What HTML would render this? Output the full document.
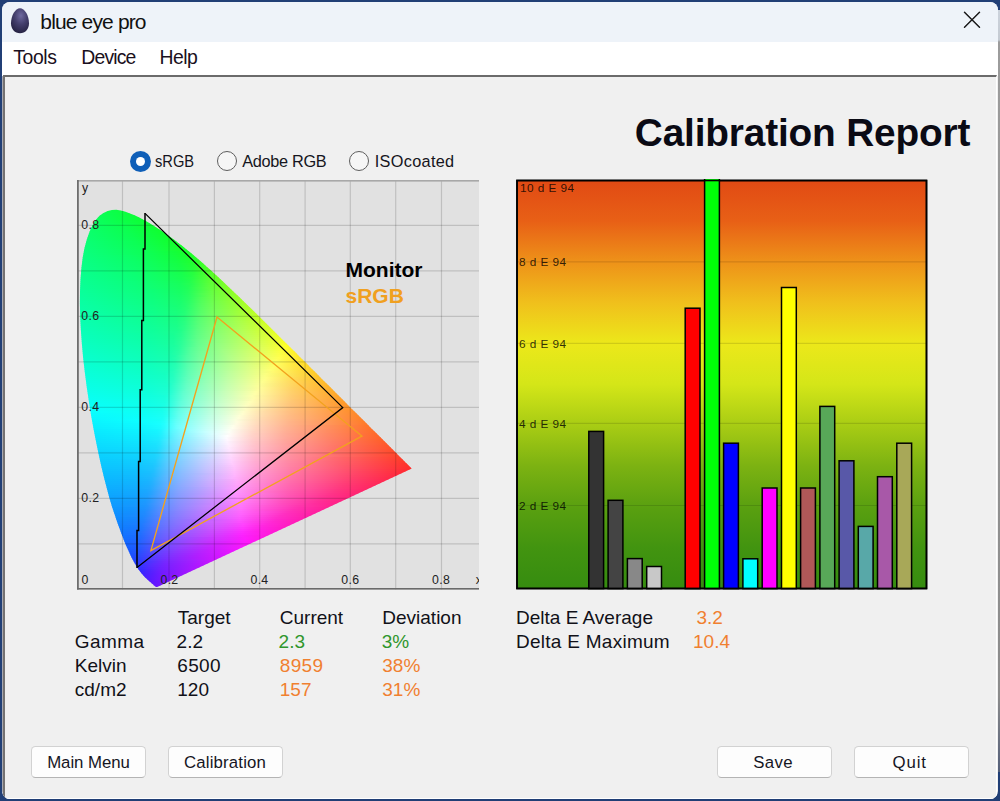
<!DOCTYPE html>
<html>
<head>
<meta charset="utf-8">
<title>blue eye pro</title>
<style>
html,body{margin:0;padding:0;}
body{width:1000px;height:801px;overflow:hidden;position:relative;background:#213f76;font-family:"Liberation Sans",sans-serif;color:#000;}
.abs{position:absolute;}
#edge-r{left:998px;top:10px;width:2px;height:762px;background:linear-gradient(#ccd3dc 0,#c4cad2 30px,#9c9c9c 32px,#8c8c8c 90%,#55607a 100%);}
#win{left:2px;top:2px;width:996px;height:797px;background:#f0f0f0;border-radius:8px;overflow:hidden;}
#titlebar{left:0;top:0;width:996px;height:39.6px;background:#eef3f9;}
#title{left:38.3px;top:7.6px;font-size:21px;line-height:24px;letter-spacing:-0.85px;color:#111;white-space:nowrap;}
#menubar{left:0;top:39.6px;width:996px;height:34px;background:#fff;}
.menu{top:3.4px;font-size:19.4px;line-height:24px;letter-spacing:-0.8px;color:#1a1020;white-space:nowrap;}
#client{left:1px;top:72.5px;width:994px;height:724.5px;box-sizing:border-box;border-top:2.5px solid #6b6b6b;border-left:2px solid #747272;border-right:1.5px solid #fff;border-bottom:1.5px solid #fff;background:#f0f0f0;}
.t{white-space:nowrap;font-size:19px;line-height:24px;color:#111118;}
.g{color:#2f962c;}
.o{color:#f08030;}
#h1{left:634.8px;top:110.5px;font-size:38.8px;line-height:44px;font-weight:bold;letter-spacing:-0.17px;color:#0a0a14;white-space:nowrap;}
.radio{width:18.2px;height:18.2px;border-radius:50%;border:1.5px solid #5e5e5e;background:#f6f6f6;box-sizing:content-box;}
.radio.on{border:none;width:21px;height:21px;background:#0f5fb8;}
.radio.on::after{content:"";position:absolute;left:6px;top:6px;width:9px;height:9px;border-radius:50%;background:#fff;}
.rl{font-size:16.3px;line-height:20px;letter-spacing:-0.5px;transform-origin:0 0;color:#151520;white-space:nowrap;}
.btn{top:745.5px;width:115px;height:32.5px;box-sizing:border-box;border:1px solid #d2d2d2;border-bottom-color:#b4b4b4;border-radius:4.5px;background:#fdfdfd;text-align:center;font-size:16.8px;line-height:31px;letter-spacing:-0.45px;color:#15151f;white-space:nowrap;}
</style>
</head>
<body>
<div id="edge-r" class="abs"></div>
<div id="win" class="abs">
  <div id="titlebar" class="abs">
    <svg class="abs" style="left:7px;top:4px" width="22" height="30" viewBox="0 0 22 30">
      <defs><radialGradient id="egg" cx="0.55" cy="0.3" r="0.75"><stop offset="0" stop-color="#6f6aa0"/><stop offset="0.45" stop-color="#45406e"/><stop offset="1" stop-color="#23203f"/></radialGradient></defs>
      <path d="M11 2.2C15.6 2.2 20 9.5 20 17.2C20 23.2 16.2 27.2 11 27.2C5.8 27.2 2 23.2 2 17.2C2 9.5 6.4 2.2 11 2.2Z" fill="url(#egg)"/>
    </svg>
    <div id="title" class="abs">blue eye pro</div>
    <svg class="abs" style="left:958px;top:6px" width="24" height="24" viewBox="0 0 24 24"><path d="M4.5 4.2L19.5 19.2M19.5 4.2L4.5 19.2" stroke="#1a1a1a" stroke-width="1.5" fill="none" stroke-linecap="round"/></svg>
  </div>
  <div id="menubar" class="abs">
    <div class="abs menu" style="left:11.3px;letter-spacing:-0.4px">Tools</div>
    <div class="abs menu" style="left:79.3px;letter-spacing:-0.85px">Device</div>
    <div class="abs menu" style="left:157.5px;letter-spacing:-0.5px">Help</div>
  </div>
  <div class="abs" style="left:0;top:74px;width:1.2px;height:716px;background:#a9a9b0"></div>
  <div id="client" class="abs"></div>
</div>

<div id="h1" class="abs">Calibration Report</div>

<div class="abs radio on" style="left:130px;top:150.5px"></div>
<div class="abs rl" style="left:155.3px;top:151.1px;letter-spacing:0;transform:scaleX(0.9)">sRGB</div>
<div class="abs radio" style="left:216.5px;top:151px"></div>
<div class="abs rl" style="left:242.2px;top:151.1px;letter-spacing:-0.3px">Adobe RGB</div>
<div class="abs radio" style="left:349.3px;top:151px"></div>
<div class="abs rl" style="left:374.8px;top:151.1px;letter-spacing:0.3px">ISOcoated</div>

<svg class="abs" style="left:77px;top:180px" width="402" height="409.5" viewBox="77 180 402 409.5"><defs><clipPath id="hs"><polygon points="157.2,587.0 157.0,587.0 156.7,587.0 156.3,587.0 156.0,587.0 155.8,586.9 155.7,586.8 155.6,586.8 155.5,586.7 155.4,586.6 155.2,586.4 155.1,586.3 154.9,586.2 154.7,586.0 154.5,585.8 154.2,585.6 154.0,585.4 153.7,585.2 153.4,584.9 153.2,584.6 152.8,584.3 152.5,584.0 152.1,583.7 151.8,583.4 151.3,583.0 150.9,582.6 150.4,582.2 149.9,581.7 149.3,581.2 148.7,580.7 148.1,580.2 147.4,579.6 146.8,579.0 146.0,578.3 145.2,577.5 144.4,576.7 143.6,575.8 142.7,574.8 141.8,573.8 140.8,572.6 139.7,571.1 138.5,569.5 137.3,567.6 136.0,565.5 134.5,563.0 133.0,560.2 131.4,557.2 129.8,553.8 128.0,549.8 126.0,545.4 124.0,540.5 121.9,535.0 119.7,528.9 117.2,522.2 114.7,514.8 112.0,506.8 109.4,498.0 106.8,488.3 104.1,477.9 101.4,466.8 98.8,455.1 96.2,442.5 93.6,429.2 91.1,415.4 88.9,401.5 86.8,387.4 84.9,372.9 83.2,358.4 81.9,344.3 80.9,330.6 80.2,317.0 79.9,303.8 80.0,291.4 80.5,279.5 81.4,268.1 82.7,257.5 84.5,248.0 86.8,239.4 89.5,231.8 92.5,225.2 95.9,219.8 99.5,215.8 103.5,212.9 107.7,211.0 111.9,209.9 116.3,209.7 120.8,210.5 125.5,211.8 130.0,213.4 134.6,215.2 139.3,217.5 143.9,220.0 148.4,222.6 152.9,225.2 157.2,227.9 161.5,230.8 165.8,233.7 170.0,236.7 174.2,239.7 178.3,242.9 182.4,246.1 186.6,249.4 190.7,252.8 194.8,256.2 198.9,259.7 203.0,263.3 207.0,266.9 211.1,270.6 215.1,274.3 219.2,278.0 223.2,281.8 227.3,285.7 231.3,289.5 235.4,293.4 239.5,297.3 243.5,301.2 247.6,305.2 251.6,309.1 255.7,313.1 259.7,317.1 263.7,321.0 267.8,325.0 271.8,329.0 275.8,333.0 279.8,336.9 283.8,340.9 287.7,344.8 291.7,348.7 295.6,352.6 299.4,356.5 303.3,360.3 307.1,364.1 310.9,367.9 314.6,371.6 318.3,375.3 321.9,379.0 325.5,382.5 329.1,386.1 332.6,389.5 336.0,393.0 339.3,396.3 342.6,399.6 345.8,402.8 348.9,405.9 351.9,408.9 354.8,411.8 357.6,414.5 360.3,417.2 362.9,419.8 365.4,422.3 367.9,424.8 370.2,427.2 372.5,429.4 374.6,431.5 376.7,433.6 378.6,435.5 380.5,437.3 382.2,439.1 383.9,440.8 385.5,442.3 387.0,443.8 388.4,445.3 389.7,446.6 391.0,447.8 392.1,449.0 393.3,450.1 394.3,451.2 395.3,452.2 396.3,453.1 397.2,454.0 398.0,454.9 398.8,455.7 399.6,456.4 400.3,457.2 401.0,457.9 401.7,458.6 402.4,459.2 403.0,459.8 403.6,460.4 404.1,461.0 404.6,461.5 405.1,462.0 405.6,462.4 406.0,462.9 406.4,463.3 406.8,463.6 407.2,464.0 407.5,464.3 407.8,464.6 408.1,464.9 408.4,465.2 408.6,465.4 408.8,465.7 409.1,465.9 409.3,466.1 409.5,466.3 409.6,466.4 409.8,466.6 409.9,466.7 410.0,466.8 410.1,467.0 410.2,467.1 410.3,467.2 410.4,467.3 410.5,467.4 410.6,467.4 410.7,467.5 410.8,467.6 410.8,467.7 410.9,467.8 411.0,467.8 411.1,467.9 411.2,468.0 411.2,468.1 411.3,468.1 411.4,468.2 411.4,468.3 411.5,468.3 411.5,468.4 411.6,468.4 411.6,468.5 411.6,468.5 411.7,468.5 411.7,468.5 411.7,468.5 411.7,468.6 411.7,468.6 411.7,468.6 411.8,468.6"/></clipPath><linearGradient id="r0" gradientUnits="userSpaceOnUse" x1="106.8" x2="123.7"><stop offset="0.000" stop-color="#0bff4d"/><stop offset="1.000" stop-color="#0cff3e"/></linearGradient><linearGradient id="r1" gradientUnits="userSpaceOnUse" x1="102.4" x2="129.9"><stop offset="0.000" stop-color="#0aff52"/><stop offset="1.000" stop-color="#0cff3b"/></linearGradient><linearGradient id="r2" gradientUnits="userSpaceOnUse" x1="99.6" x2="135.0"><stop offset="0.000" stop-color="#0aff56"/><stop offset="1.000" stop-color="#0cff38"/></linearGradient><linearGradient id="r3" gradientUnits="userSpaceOnUse" x1="97.4" x2="139.2"><stop offset="0.000" stop-color="#0aff59"/><stop offset="1.000" stop-color="#0dff36"/></linearGradient><linearGradient id="r4" gradientUnits="userSpaceOnUse" x1="95.6" x2="143.0"><stop offset="0.000" stop-color="#0aff5c"/><stop offset="1.000" stop-color="#0dff34"/></linearGradient><linearGradient id="r5" gradientUnits="userSpaceOnUse" x1="94.2" x2="146.6"><stop offset="0.000" stop-color="#0aff5f"/><stop offset="1.000" stop-color="#0dff32"/></linearGradient><linearGradient id="r6" gradientUnits="userSpaceOnUse" x1="92.9" x2="150.1"><stop offset="0.000" stop-color="#0aff61"/><stop offset="1.000" stop-color="#0eff31"/></linearGradient><linearGradient id="r7" gradientUnits="userSpaceOnUse" x1="91.7" x2="153.5"><stop offset="0.000" stop-color="#0aff63"/><stop offset="0.533" stop-color="#0cff4c"/><stop offset="1.000" stop-color="#0eff30"/></linearGradient><linearGradient id="r8" gradientUnits="userSpaceOnUse" x1="90.7" x2="156.7"><stop offset="0.000" stop-color="#0aff66"/><stop offset="0.500" stop-color="#0bff4f"/><stop offset="1.000" stop-color="#0eff2f"/></linearGradient><linearGradient id="r9" gradientUnits="userSpaceOnUse" x1="89.8" x2="159.8"><stop offset="0.000" stop-color="#0aff68"/><stop offset="0.529" stop-color="#0cff4e"/><stop offset="1.000" stop-color="#0fff2d"/></linearGradient><linearGradient id="r10" gradientUnits="userSpaceOnUse" x1="88.8" x2="162.8"><stop offset="0.000" stop-color="#0aff6a"/><stop offset="0.500" stop-color="#0cff51"/><stop offset="1.000" stop-color="#0fff2d"/></linearGradient><linearGradient id="r11" gradientUnits="userSpaceOnUse" x1="88.0" x2="165.8"><stop offset="0.000" stop-color="#0aff6c"/><stop offset="0.526" stop-color="#0cff50"/><stop offset="1.000" stop-color="#10ff2c"/></linearGradient><linearGradient id="r12" gradientUnits="userSpaceOnUse" x1="87.3" x2="168.6"><stop offset="0.000" stop-color="#0aff6e"/><stop offset="0.550" stop-color="#0cff50"/><stop offset="1.000" stop-color="#10ff2b"/></linearGradient><linearGradient id="r13" gradientUnits="userSpaceOnUse" x1="86.6" x2="171.5"><stop offset="0.000" stop-color="#0aff6f"/><stop offset="0.524" stop-color="#0cff52"/><stop offset="1.000" stop-color="#11ff2a"/></linearGradient><linearGradient id="r14" gradientUnits="userSpaceOnUse" x1="85.9" x2="174.2"><stop offset="0.000" stop-color="#0aff71"/><stop offset="0.545" stop-color="#0cff52"/><stop offset="1.000" stop-color="#12ff29"/></linearGradient><linearGradient id="r15" gradientUnits="userSpaceOnUse" x1="85.3" x2="176.8"><stop offset="0.000" stop-color="#0aff73"/><stop offset="0.545" stop-color="#0cff53"/><stop offset="1.000" stop-color="#13ff29"/></linearGradient><linearGradient id="r16" gradientUnits="userSpaceOnUse" x1="84.8" x2="179.5"><stop offset="0.000" stop-color="#0aff75"/><stop offset="0.522" stop-color="#0cff56"/><stop offset="1.000" stop-color="#14ff28"/></linearGradient><linearGradient id="r17" gradientUnits="userSpaceOnUse" x1="84.3" x2="182.0"><stop offset="0.000" stop-color="#0aff77"/><stop offset="0.542" stop-color="#0cff55"/><stop offset="1.000" stop-color="#15ff28"/></linearGradient><linearGradient id="r18" gradientUnits="userSpaceOnUse" x1="83.8" x2="184.6"><stop offset="0.000" stop-color="#0aff78"/><stop offset="0.560" stop-color="#0dff55"/><stop offset="1.000" stop-color="#16ff27"/></linearGradient><linearGradient id="r19" gradientUnits="userSpaceOnUse" x1="83.3" x2="187.1"><stop offset="0.000" stop-color="#0aff7a"/><stop offset="0.560" stop-color="#0dff56"/><stop offset="1.000" stop-color="#18ff27"/></linearGradient><linearGradient id="r20" gradientUnits="userSpaceOnUse" x1="83.0" x2="189.5"><stop offset="0.000" stop-color="#0aff7c"/><stop offset="0.538" stop-color="#0dff59"/><stop offset="1.000" stop-color="#1aff26"/></linearGradient><linearGradient id="r21" gradientUnits="userSpaceOnUse" x1="82.6" x2="191.9"><stop offset="0.000" stop-color="#0aff7d"/><stop offset="0.556" stop-color="#0dff58"/><stop offset="0.852" stop-color="#13ff38"/><stop offset="1.000" stop-color="#1dff26"/></linearGradient><linearGradient id="r22" gradientUnits="userSpaceOnUse" x1="82.2" x2="194.3"><stop offset="0.000" stop-color="#0aff7f"/><stop offset="0.571" stop-color="#0dff58"/><stop offset="0.857" stop-color="#14ff38"/><stop offset="1.000" stop-color="#21ff26"/></linearGradient><linearGradient id="r23" gradientUnits="userSpaceOnUse" x1="81.8" x2="196.7"><stop offset="0.000" stop-color="#0aff80"/><stop offset="0.429" stop-color="#0cff65"/><stop offset="0.750" stop-color="#11ff46"/><stop offset="0.893" stop-color="#17ff33"/><stop offset="1.000" stop-color="#27ff25"/></linearGradient><linearGradient id="r24" gradientUnits="userSpaceOnUse" x1="81.6" x2="199.0"><stop offset="0.000" stop-color="#0aff82"/><stop offset="0.448" stop-color="#0cff65"/><stop offset="0.793" stop-color="#13ff41"/><stop offset="0.931" stop-color="#1dff2e"/><stop offset="1.000" stop-color="#2eff25"/></linearGradient><linearGradient id="r25" gradientUnits="userSpaceOnUse" x1="81.3" x2="201.3"><stop offset="0.000" stop-color="#09ff84"/><stop offset="0.448" stop-color="#0cff66"/><stop offset="0.793" stop-color="#13ff42"/><stop offset="0.931" stop-color="#21ff2e"/><stop offset="1.000" stop-color="#36ff25"/></linearGradient><linearGradient id="r26" gradientUnits="userSpaceOnUse" x1="81.1" x2="203.6"><stop offset="0.000" stop-color="#09ff85"/><stop offset="0.467" stop-color="#0cff66"/><stop offset="0.800" stop-color="#15ff41"/><stop offset="0.900" stop-color="#1fff32"/><stop offset="1.000" stop-color="#3eff25"/></linearGradient><linearGradient id="r27" gradientUnits="userSpaceOnUse" x1="80.8" x2="205.8"><stop offset="0.000" stop-color="#09ff87"/><stop offset="0.452" stop-color="#0cff68"/><stop offset="0.774" stop-color="#14ff46"/><stop offset="0.903" stop-color="#24ff32"/><stop offset="1.000" stop-color="#46ff24"/></linearGradient><linearGradient id="r28" gradientUnits="userSpaceOnUse" x1="80.6" x2="208.1"><stop offset="0.000" stop-color="#09ff88"/><stop offset="0.452" stop-color="#0cff69"/><stop offset="0.774" stop-color="#15ff46"/><stop offset="0.871" stop-color="#21ff38"/><stop offset="1.000" stop-color="#4eff24"/></linearGradient><linearGradient id="r29" gradientUnits="userSpaceOnUse" x1="80.3" x2="210.3"><stop offset="0.000" stop-color="#09ff8a"/><stop offset="0.469" stop-color="#0dff69"/><stop offset="0.781" stop-color="#17ff46"/><stop offset="0.875" stop-color="#26ff37"/><stop offset="1.000" stop-color="#54ff24"/></linearGradient><linearGradient id="r30" gradientUnits="userSpaceOnUse" x1="80.2" x2="212.5"><stop offset="0.000" stop-color="#09ff8b"/><stop offset="0.424" stop-color="#0cff6e"/><stop offset="0.758" stop-color="#16ff4a"/><stop offset="0.848" stop-color="#23ff3c"/><stop offset="1.000" stop-color="#5bff24"/></linearGradient><linearGradient id="r31" gradientUnits="userSpaceOnUse" x1="80.0" x2="214.7"><stop offset="0.000" stop-color="#09ff8d"/><stop offset="0.424" stop-color="#0cff6f"/><stop offset="0.758" stop-color="#17ff4b"/><stop offset="0.848" stop-color="#29ff3d"/><stop offset="1.000" stop-color="#61ff24"/></linearGradient><linearGradient id="r32" gradientUnits="userSpaceOnUse" x1="79.9" x2="216.9"><stop offset="0.000" stop-color="#09ff8e"/><stop offset="0.412" stop-color="#0cff72"/><stop offset="0.735" stop-color="#16ff4f"/><stop offset="0.824" stop-color="#26ff41"/><stop offset="1.000" stop-color="#67ff23"/></linearGradient><linearGradient id="r33" gradientUnits="userSpaceOnUse" x1="79.7" x2="219.0"><stop offset="0.000" stop-color="#09ff90"/><stop offset="0.412" stop-color="#0cff73"/><stop offset="0.735" stop-color="#18ff50"/><stop offset="0.794" stop-color="#21ff47"/><stop offset="0.912" stop-color="#50ff32"/><stop offset="1.000" stop-color="#6cff23"/></linearGradient><linearGradient id="r34" gradientUnits="userSpaceOnUse" x1="79.5" x2="221.2"><stop offset="0.000" stop-color="#09ff91"/><stop offset="0.400" stop-color="#0cff75"/><stop offset="0.714" stop-color="#17ff53"/><stop offset="0.800" stop-color="#28ff47"/><stop offset="0.914" stop-color="#57ff32"/><stop offset="1.000" stop-color="#71ff23"/></linearGradient><linearGradient id="r35" gradientUnits="userSpaceOnUse" x1="79.4" x2="223.3"><stop offset="0.000" stop-color="#09ff93"/><stop offset="0.400" stop-color="#0cff76"/><stop offset="0.714" stop-color="#18ff54"/><stop offset="0.771" stop-color="#23ff4c"/><stop offset="0.886" stop-color="#53ff38"/><stop offset="1.000" stop-color="#76ff23"/></linearGradient><linearGradient id="r36" gradientUnits="userSpaceOnUse" x1="79.3" x2="225.5"><stop offset="0.000" stop-color="#09ff94"/><stop offset="0.389" stop-color="#0cff79"/><stop offset="0.694" stop-color="#17ff58"/><stop offset="0.750" stop-color="#21ff50"/><stop offset="0.889" stop-color="#5aff37"/><stop offset="1.000" stop-color="#7bff23"/></linearGradient><linearGradient id="r37" gradientUnits="userSpaceOnUse" x1="79.2" x2="227.6"><stop offset="0.000" stop-color="#09ff95"/><stop offset="0.378" stop-color="#0cff7b"/><stop offset="0.676" stop-color="#17ff5c"/><stop offset="0.757" stop-color="#27ff50"/><stop offset="0.865" stop-color="#57ff3d"/><stop offset="1.000" stop-color="#80ff23"/></linearGradient><linearGradient id="r38" gradientUnits="userSpaceOnUse" x1="79.2" x2="229.7"><stop offset="0.000" stop-color="#09ff97"/><stop offset="0.378" stop-color="#0cff7c"/><stop offset="0.676" stop-color="#18ff5d"/><stop offset="0.730" stop-color="#22ff55"/><stop offset="0.865" stop-color="#5dff3d"/><stop offset="1.000" stop-color="#85ff23"/></linearGradient><linearGradient id="r39" gradientUnits="userSpaceOnUse" x1="79.1" x2="231.8"><stop offset="0.000" stop-color="#09ff98"/><stop offset="0.368" stop-color="#0cff7e"/><stop offset="0.658" stop-color="#17ff60"/><stop offset="0.711" stop-color="#20ff59"/><stop offset="0.842" stop-color="#5aff42"/><stop offset="1.000" stop-color="#8aff23"/></linearGradient><linearGradient id="r40" gradientUnits="userSpaceOnUse" x1="79.0" x2="233.9"><stop offset="0.000" stop-color="#09ff9a"/><stop offset="0.474" stop-color="#0eff76"/><stop offset="0.658" stop-color="#18ff61"/><stop offset="0.711" stop-color="#24ff5a"/><stop offset="0.868" stop-color="#69ff3d"/><stop offset="1.000" stop-color="#8eff22"/></linearGradient><linearGradient id="r41" gradientUnits="userSpaceOnUse" x1="79.0" x2="236.0"><stop offset="0.000" stop-color="#09ff9b"/><stop offset="0.462" stop-color="#0eff78"/><stop offset="0.641" stop-color="#17ff64"/><stop offset="0.692" stop-color="#22ff5d"/><stop offset="0.846" stop-color="#66ff43"/><stop offset="1.000" stop-color="#93ff22"/></linearGradient><linearGradient id="r42" gradientUnits="userSpaceOnUse" x1="78.9" x2="238.1"><stop offset="0.000" stop-color="#09ff9d"/><stop offset="0.462" stop-color="#0eff7a"/><stop offset="0.641" stop-color="#19ff65"/><stop offset="0.692" stop-color="#26ff5e"/><stop offset="0.769" stop-color="#4dff52"/><stop offset="0.846" stop-color="#6bff43"/><stop offset="1.000" stop-color="#97ff22"/></linearGradient><linearGradient id="r43" gradientUnits="userSpaceOnUse" x1="78.9" x2="240.2"><stop offset="0.000" stop-color="#09ff9e"/><stop offset="0.450" stop-color="#0eff7c"/><stop offset="0.625" stop-color="#18ff69"/><stop offset="0.675" stop-color="#24ff62"/><stop offset="0.825" stop-color="#69ff49"/><stop offset="1.000" stop-color="#9bff22"/></linearGradient><linearGradient id="r44" gradientUnits="userSpaceOnUse" x1="78.9" x2="242.2"><stop offset="0.000" stop-color="#09ffa0"/><stop offset="0.450" stop-color="#0eff7d"/><stop offset="0.625" stop-color="#1aff6a"/><stop offset="0.675" stop-color="#28ff63"/><stop offset="0.750" stop-color="#50ff57"/><stop offset="0.825" stop-color="#6eff49"/><stop offset="1.000" stop-color="#9fff22"/></linearGradient><linearGradient id="r45" gradientUnits="userSpaceOnUse" x1="78.9" x2="244.3"><stop offset="0.000" stop-color="#09ffa1"/><stop offset="0.439" stop-color="#0eff80"/><stop offset="0.610" stop-color="#19ff6d"/><stop offset="0.659" stop-color="#26ff66"/><stop offset="0.732" stop-color="#4dff5b"/><stop offset="0.805" stop-color="#6bff4e"/><stop offset="1.000" stop-color="#a4ff22"/></linearGradient><linearGradient id="r46" gradientUnits="userSpaceOnUse" x1="78.9" x2="246.4"><stop offset="0.000" stop-color="#09ffa3"/><stop offset="0.439" stop-color="#0eff81"/><stop offset="0.610" stop-color="#1aff6e"/><stop offset="0.659" stop-color="#2bff67"/><stop offset="0.732" stop-color="#52ff5c"/><stop offset="0.805" stop-color="#70ff4f"/><stop offset="1.000" stop-color="#a8ff22"/></linearGradient><linearGradient id="r47" gradientUnits="userSpaceOnUse" x1="78.9" x2="248.4"><stop offset="0.000" stop-color="#09ffa4"/><stop offset="0.429" stop-color="#0eff83"/><stop offset="0.595" stop-color="#19ff71"/><stop offset="0.643" stop-color="#28ff6b"/><stop offset="0.714" stop-color="#50ff60"/><stop offset="0.786" stop-color="#6eff54"/><stop offset="1.000" stop-color="#acff22"/></linearGradient><linearGradient id="r48" gradientUnits="userSpaceOnUse" x1="78.9" x2="250.5"><stop offset="0.000" stop-color="#09ffa6"/><stop offset="0.405" stop-color="#0eff87"/><stop offset="0.571" stop-color="#17ff75"/><stop offset="0.619" stop-color="#22ff6f"/><stop offset="0.714" stop-color="#55ff61"/><stop offset="0.786" stop-color="#72ff55"/><stop offset="1.000" stop-color="#b0ff22"/></linearGradient><linearGradient id="r49" gradientUnits="userSpaceOnUse" x1="79.0" x2="252.5"><stop offset="0.000" stop-color="#09ffa7"/><stop offset="0.419" stop-color="#0eff87"/><stop offset="0.581" stop-color="#1aff75"/><stop offset="0.628" stop-color="#2aff6f"/><stop offset="0.698" stop-color="#53ff65"/><stop offset="0.767" stop-color="#70ff59"/><stop offset="1.000" stop-color="#b4ff22"/></linearGradient><linearGradient id="r50" gradientUnits="userSpaceOnUse" x1="79.0" x2="254.6"><stop offset="0.000" stop-color="#09ffa8"/><stop offset="0.395" stop-color="#0eff8a"/><stop offset="0.558" stop-color="#18ff79"/><stop offset="0.605" stop-color="#24ff73"/><stop offset="0.698" stop-color="#58ff66"/><stop offset="0.767" stop-color="#75ff5a"/><stop offset="1.000" stop-color="#b8ff22"/></linearGradient><linearGradient id="r51" gradientUnits="userSpaceOnUse" x1="79.1" x2="256.6"><stop offset="0.000" stop-color="#09ffaa"/><stop offset="0.409" stop-color="#0eff8a"/><stop offset="0.568" stop-color="#1bff79"/><stop offset="0.591" stop-color="#22ff76"/><stop offset="0.682" stop-color="#55ff69"/><stop offset="0.750" stop-color="#73ff5e"/><stop offset="1.000" stop-color="#bdff22"/></linearGradient><linearGradient id="r52" gradientUnits="userSpaceOnUse" x1="79.1" x2="258.6"><stop offset="0.000" stop-color="#09ffab"/><stop offset="0.386" stop-color="#0eff8e"/><stop offset="0.545" stop-color="#18ff7d"/><stop offset="0.591" stop-color="#26ff77"/><stop offset="0.682" stop-color="#5bff6b"/><stop offset="0.750" stop-color="#77ff5f"/><stop offset="1.000" stop-color="#c1ff22"/></linearGradient><linearGradient id="r53" gradientUnits="userSpaceOnUse" x1="79.2" x2="260.6"><stop offset="0.000" stop-color="#09ffad"/><stop offset="0.378" stop-color="#0eff90"/><stop offset="0.533" stop-color="#17ff80"/><stop offset="0.578" stop-color="#24ff7a"/><stop offset="0.667" stop-color="#58ff6e"/><stop offset="0.756" stop-color="#7eff5f"/><stop offset="1.000" stop-color="#c5ff22"/></linearGradient><linearGradient id="r54" gradientUnits="userSpaceOnUse" x1="79.2" x2="262.7"><stop offset="0.000" stop-color="#09ffae"/><stop offset="0.378" stop-color="#0eff91"/><stop offset="0.533" stop-color="#19ff81"/><stop offset="0.578" stop-color="#28ff7c"/><stop offset="0.644" stop-color="#52ff73"/><stop offset="0.733" stop-color="#7aff64"/><stop offset="0.844" stop-color="#9fff4d"/><stop offset="1.000" stop-color="#c9ff21"/></linearGradient><linearGradient id="r55" gradientUnits="userSpaceOnUse" x1="79.3" x2="264.7"><stop offset="0.000" stop-color="#09ffb0"/><stop offset="0.370" stop-color="#0eff94"/><stop offset="0.522" stop-color="#18ff84"/><stop offset="0.565" stop-color="#26ff7e"/><stop offset="0.652" stop-color="#5bff73"/><stop offset="0.739" stop-color="#80ff64"/><stop offset="0.848" stop-color="#a4ff4d"/><stop offset="1.000" stop-color="#cdff21"/></linearGradient><linearGradient id="r56" gradientUnits="userSpaceOnUse" x1="79.4" x2="266.7"><stop offset="0.000" stop-color="#09ffb1"/><stop offset="0.370" stop-color="#0eff95"/><stop offset="0.522" stop-color="#1aff85"/><stop offset="0.565" stop-color="#2bff80"/><stop offset="0.630" stop-color="#55ff77"/><stop offset="0.717" stop-color="#7dff69"/><stop offset="0.848" stop-color="#a8ff4e"/><stop offset="1.000" stop-color="#d1ff21"/></linearGradient><linearGradient id="r57" gradientUnits="userSpaceOnUse" x1="79.5" x2="268.8"><stop offset="0.000" stop-color="#09ffb3"/><stop offset="0.362" stop-color="#0eff97"/><stop offset="0.511" stop-color="#19ff88"/><stop offset="0.553" stop-color="#28ff83"/><stop offset="0.638" stop-color="#5eff77"/><stop offset="0.723" stop-color="#83ff69"/><stop offset="0.851" stop-color="#adff4e"/><stop offset="1.000" stop-color="#d5ff21"/></linearGradient><linearGradient id="r58" gradientUnits="userSpaceOnUse" x1="79.6" x2="270.8"><stop offset="0.000" stop-color="#09ffb4"/><stop offset="0.362" stop-color="#0eff99"/><stop offset="0.511" stop-color="#1aff89"/><stop offset="0.553" stop-color="#2eff84"/><stop offset="0.617" stop-color="#58ff7b"/><stop offset="0.702" stop-color="#7fff6e"/><stop offset="0.851" stop-color="#b1ff4f"/><stop offset="1.000" stop-color="#d9ff21"/></linearGradient><linearGradient id="r59" gradientUnits="userSpaceOnUse" x1="79.7" x2="272.8"><stop offset="0.000" stop-color="#09ffb6"/><stop offset="0.354" stop-color="#0eff9b"/><stop offset="0.500" stop-color="#1aff8c"/><stop offset="0.542" stop-color="#2bff87"/><stop offset="0.625" stop-color="#61ff7b"/><stop offset="0.688" stop-color="#7eff72"/><stop offset="0.833" stop-color="#b0ff54"/><stop offset="1.000" stop-color="#ddff21"/></linearGradient><linearGradient id="r60" gradientUnits="userSpaceOnUse" x1="79.9" x2="274.8"><stop offset="0.000" stop-color="#09ffb7"/><stop offset="0.375" stop-color="#0fff9a"/><stop offset="0.500" stop-color="#1bff8d"/><stop offset="0.521" stop-color="#23ff8a"/><stop offset="0.604" stop-color="#5bff80"/><stop offset="0.687" stop-color="#82ff73"/><stop offset="0.833" stop-color="#b4ff55"/><stop offset="1.000" stop-color="#e2ff21"/></linearGradient><linearGradient id="r61" gradientUnits="userSpaceOnUse" x1="80.0" x2="276.9"><stop offset="0.000" stop-color="#09ffb9"/><stop offset="0.367" stop-color="#0fff9c"/><stop offset="0.490" stop-color="#1bff90"/><stop offset="0.510" stop-color="#22ff8d"/><stop offset="0.592" stop-color="#59ff83"/><stop offset="0.673" stop-color="#80ff77"/><stop offset="0.837" stop-color="#b9ff55"/><stop offset="1.000" stop-color="#e6ff21"/></linearGradient><linearGradient id="r62" gradientUnits="userSpaceOnUse" x1="80.1" x2="278.9"><stop offset="0.000" stop-color="#09ffba"/><stop offset="0.327" stop-color="#0dffa2"/><stop offset="0.469" stop-color="#18ff93"/><stop offset="0.510" stop-color="#26ff8f"/><stop offset="0.592" stop-color="#5eff84"/><stop offset="0.673" stop-color="#85ff78"/><stop offset="0.837" stop-color="#bdff56"/><stop offset="1.000" stop-color="#eaff21"/></linearGradient><linearGradient id="r63" gradientUnits="userSpaceOnUse" x1="80.3" x2="280.9"><stop offset="0.000" stop-color="#09ffbc"/><stop offset="0.320" stop-color="#0dffa4"/><stop offset="0.460" stop-color="#17ff96"/><stop offset="0.500" stop-color="#24ff91"/><stop offset="0.580" stop-color="#5dff87"/><stop offset="0.680" stop-color="#8bff78"/><stop offset="0.840" stop-color="#c1ff57"/><stop offset="1.000" stop-color="#eeff21"/></linearGradient><linearGradient id="r64" gradientUnits="userSpaceOnUse" x1="80.4" x2="282.9"><stop offset="0.000" stop-color="#09ffbd"/><stop offset="0.340" stop-color="#0effa3"/><stop offset="0.460" stop-color="#18ff97"/><stop offset="0.500" stop-color="#29ff93"/><stop offset="0.580" stop-color="#61ff88"/><stop offset="0.660" stop-color="#87ff7d"/><stop offset="0.840" stop-color="#c5ff58"/><stop offset="1.000" stop-color="#f3ff21"/></linearGradient><linearGradient id="r65" gradientUnits="userSpaceOnUse" x1="80.5" x2="284.9"><stop offset="0.000" stop-color="#09ffbf"/><stop offset="0.314" stop-color="#0dffa7"/><stop offset="0.451" stop-color="#18ff9a"/><stop offset="0.490" stop-color="#27ff95"/><stop offset="0.549" stop-color="#54ff8e"/><stop offset="0.588" stop-color="#6bff89"/><stop offset="0.667" stop-color="#8eff7d"/><stop offset="0.843" stop-color="#caff58"/><stop offset="1.000" stop-color="#f7ff21"/></linearGradient><linearGradient id="r66" gradientUnits="userSpaceOnUse" x1="80.7" x2="286.9"><stop offset="0.000" stop-color="#09ffc0"/><stop offset="0.333" stop-color="#0effa7"/><stop offset="0.451" stop-color="#19ff9b"/><stop offset="0.490" stop-color="#2cff97"/><stop offset="0.569" stop-color="#65ff8d"/><stop offset="0.647" stop-color="#8aff81"/><stop offset="0.843" stop-color="#ceff59"/><stop offset="1.000" stop-color="#fbff21"/></linearGradient><linearGradient id="r67" gradientUnits="userSpaceOnUse" x1="80.8" x2="288.9"><stop offset="0.000" stop-color="#09ffc2"/><stop offset="0.327" stop-color="#0effa9"/><stop offset="0.442" stop-color="#19ff9d"/><stop offset="0.481" stop-color="#2aff99"/><stop offset="0.558" stop-color="#63ff90"/><stop offset="0.654" stop-color="#91ff82"/><stop offset="0.846" stop-color="#d3ff59"/><stop offset="1.000" stop-color="#fffe21"/></linearGradient><linearGradient id="r68" gradientUnits="userSpaceOnUse" x1="81.0" x2="290.9"><stop offset="0.000" stop-color="#09ffc4"/><stop offset="0.327" stop-color="#0effab"/><stop offset="0.442" stop-color="#1aff9f"/><stop offset="0.462" stop-color="#22ff9d"/><stop offset="0.558" stop-color="#68ff91"/><stop offset="0.654" stop-color="#95ff83"/><stop offset="0.846" stop-color="#d7ff5a"/><stop offset="0.981" stop-color="#ffff27"/><stop offset="1.000" stop-color="#fffa21"/></linearGradient><linearGradient id="r69" gradientUnits="userSpaceOnUse" x1="81.2" x2="292.9"><stop offset="0.000" stop-color="#09ffc5"/><stop offset="0.308" stop-color="#0effae"/><stop offset="0.423" stop-color="#17ffa3"/><stop offset="0.462" stop-color="#26ff9e"/><stop offset="0.519" stop-color="#55ff98"/><stop offset="0.558" stop-color="#6dff93"/><stop offset="0.654" stop-color="#99ff84"/><stop offset="0.846" stop-color="#dcff5b"/><stop offset="0.962" stop-color="#feff2f"/><stop offset="1.000" stop-color="#fff521"/></linearGradient><linearGradient id="r70" gradientUnits="userSpaceOnUse" x1="81.4" x2="295.0"><stop offset="0.000" stop-color="#09ffc7"/><stop offset="0.302" stop-color="#0effb0"/><stop offset="0.415" stop-color="#17ffa5"/><stop offset="0.453" stop-color="#24ffa1"/><stop offset="0.509" stop-color="#53ff9a"/><stop offset="0.547" stop-color="#6bff95"/><stop offset="0.660" stop-color="#a0ff85"/><stop offset="0.830" stop-color="#dbff61"/><stop offset="0.943" stop-color="#fdff38"/><stop offset="1.000" stop-color="#fff122"/></linearGradient><linearGradient id="r71" gradientUnits="userSpaceOnUse" x1="81.5" x2="297.0"><stop offset="0.000" stop-color="#09ffc8"/><stop offset="0.302" stop-color="#0effb2"/><stop offset="0.415" stop-color="#18ffa7"/><stop offset="0.453" stop-color="#29ffa2"/><stop offset="0.509" stop-color="#58ff9c"/><stop offset="0.547" stop-color="#70ff97"/><stop offset="0.660" stop-color="#a4ff86"/><stop offset="0.811" stop-color="#d9ff67"/><stop offset="0.925" stop-color="#fcff41"/><stop offset="1.000" stop-color="#ffed22"/></linearGradient><linearGradient id="r72" gradientUnits="userSpaceOnUse" x1="81.7" x2="299.0"><stop offset="0.000" stop-color="#09ffca"/><stop offset="0.296" stop-color="#0effb4"/><stop offset="0.407" stop-color="#18ffa9"/><stop offset="0.444" stop-color="#27ffa5"/><stop offset="0.500" stop-color="#57ff9e"/><stop offset="0.537" stop-color="#6fff9a"/><stop offset="0.667" stop-color="#aaff86"/><stop offset="0.796" stop-color="#d8ff6c"/><stop offset="0.907" stop-color="#fbff49"/><stop offset="1.000" stop-color="#ffe922"/></linearGradient><linearGradient id="r73" gradientUnits="userSpaceOnUse" x1="81.9" x2="301.0"><stop offset="0.000" stop-color="#09ffcc"/><stop offset="0.296" stop-color="#0effb5"/><stop offset="0.407" stop-color="#19ffab"/><stop offset="0.426" stop-color="#20ffa9"/><stop offset="0.481" stop-color="#4effa2"/><stop offset="0.537" stop-color="#73ff9b"/><stop offset="0.667" stop-color="#aeff88"/><stop offset="0.815" stop-color="#e2ff68"/><stop offset="0.907" stop-color="#fffe4a"/><stop offset="1.000" stop-color="#ffe522"/></linearGradient><linearGradient id="r74" gradientUnits="userSpaceOnUse" x1="82.1" x2="303.0"><stop offset="0.000" stop-color="#09ffcd"/><stop offset="0.291" stop-color="#0effb7"/><stop offset="0.400" stop-color="#18ffad"/><stop offset="0.436" stop-color="#2bffa9"/><stop offset="0.473" stop-color="#4dffa5"/><stop offset="0.527" stop-color="#72ff9e"/><stop offset="0.673" stop-color="#b4ff88"/><stop offset="0.800" stop-color="#e2ff6e"/><stop offset="0.891" stop-color="#ffff51"/><stop offset="1.000" stop-color="#ffe123"/></linearGradient><linearGradient id="r75" gradientUnits="userSpaceOnUse" x1="82.3" x2="305.0"><stop offset="0.000" stop-color="#09ffcf"/><stop offset="0.291" stop-color="#0effb9"/><stop offset="0.400" stop-color="#1affaf"/><stop offset="0.418" stop-color="#22ffad"/><stop offset="0.473" stop-color="#52ffa7"/><stop offset="0.527" stop-color="#77ffa0"/><stop offset="0.673" stop-color="#b8ff8a"/><stop offset="0.782" stop-color="#e0ff73"/><stop offset="0.873" stop-color="#feff59"/><stop offset="1.000" stop-color="#ffde23"/></linearGradient><linearGradient id="r76" gradientUnits="userSpaceOnUse" x1="82.5" x2="307.0"><stop offset="0.000" stop-color="#09ffd0"/><stop offset="0.286" stop-color="#0effbb"/><stop offset="0.393" stop-color="#1affb1"/><stop offset="0.411" stop-color="#21ffaf"/><stop offset="0.464" stop-color="#51ffa9"/><stop offset="0.518" stop-color="#76ffa3"/><stop offset="0.679" stop-color="#bfff8a"/><stop offset="0.857" stop-color="#fdff60"/><stop offset="1.000" stop-color="#ffda23"/></linearGradient><linearGradient id="r77" gradientUnits="userSpaceOnUse" x1="82.8" x2="309.0"><stop offset="0.000" stop-color="#09ffd2"/><stop offset="0.268" stop-color="#0dffbe"/><stop offset="0.375" stop-color="#16ffb4"/><stop offset="0.411" stop-color="#25ffb1"/><stop offset="0.464" stop-color="#57ffab"/><stop offset="0.518" stop-color="#7affa4"/><stop offset="0.589" stop-color="#9eff9a"/><stop offset="0.696" stop-color="#caff89"/><stop offset="0.857" stop-color="#fffd60"/><stop offset="1.000" stop-color="#ffd623"/></linearGradient><linearGradient id="r78" gradientUnits="userSpaceOnUse" x1="83.0" x2="311.0"><stop offset="0.000" stop-color="#09ffd4"/><stop offset="0.268" stop-color="#0dffc0"/><stop offset="0.375" stop-color="#18ffb6"/><stop offset="0.411" stop-color="#2affb2"/><stop offset="0.464" stop-color="#5cffac"/><stop offset="0.518" stop-color="#7effa6"/><stop offset="0.607" stop-color="#aaff99"/><stop offset="0.714" stop-color="#d4ff87"/><stop offset="0.839" stop-color="#fffe67"/><stop offset="1.000" stop-color="#ffd323"/></linearGradient><linearGradient id="r79" gradientUnits="userSpaceOnUse" x1="83.2" x2="313.0"><stop offset="0.000" stop-color="#09ffd6"/><stop offset="0.263" stop-color="#0dffc2"/><stop offset="0.368" stop-color="#17ffb9"/><stop offset="0.404" stop-color="#29ffb5"/><stop offset="0.456" stop-color="#5bffaf"/><stop offset="0.509" stop-color="#7effa9"/><stop offset="0.596" stop-color="#a9ff9d"/><stop offset="0.719" stop-color="#daff87"/><stop offset="0.825" stop-color="#fffe6d"/><stop offset="1.000" stop-color="#ffcf24"/></linearGradient><linearGradient id="r80" gradientUnits="userSpaceOnUse" x1="83.5" x2="315.0"><stop offset="0.000" stop-color="#09ffd7"/><stop offset="0.263" stop-color="#0dffc4"/><stop offset="0.368" stop-color="#19ffba"/><stop offset="0.386" stop-color="#20ffb9"/><stop offset="0.456" stop-color="#60ffb1"/><stop offset="0.509" stop-color="#82ffaa"/><stop offset="0.596" stop-color="#adff9e"/><stop offset="0.737" stop-color="#e5ff85"/><stop offset="0.807" stop-color="#feff74"/><stop offset="1.000" stop-color="#ffcc24"/></linearGradient><linearGradient id="r81" gradientUnits="userSpaceOnUse" x1="83.7" x2="317.0"><stop offset="0.000" stop-color="#09ffd9"/><stop offset="0.259" stop-color="#0dffc6"/><stop offset="0.362" stop-color="#18ffbd"/><stop offset="0.397" stop-color="#2dffb9"/><stop offset="0.448" stop-color="#5fffb4"/><stop offset="0.517" stop-color="#8bffab"/><stop offset="0.621" stop-color="#bcff9c"/><stop offset="0.759" stop-color="#f1ff82"/><stop offset="0.810" stop-color="#fffa72"/><stop offset="1.000" stop-color="#ffc824"/></linearGradient><linearGradient id="r82" gradientUnits="userSpaceOnUse" x1="83.9" x2="319.0"><stop offset="0.000" stop-color="#09ffdb"/><stop offset="0.241" stop-color="#0dffc9"/><stop offset="0.345" stop-color="#15ffc0"/><stop offset="0.379" stop-color="#23ffbd"/><stop offset="0.448" stop-color="#64ffb5"/><stop offset="0.517" stop-color="#8fffad"/><stop offset="0.621" stop-color="#c0ff9e"/><stop offset="0.776" stop-color="#fcff7f"/><stop offset="1.000" stop-color="#ffc524"/></linearGradient><linearGradient id="r83" gradientUnits="userSpaceOnUse" x1="84.2" x2="321.0"><stop offset="0.000" stop-color="#09ffdc"/><stop offset="0.237" stop-color="#0dffcc"/><stop offset="0.339" stop-color="#15ffc3"/><stop offset="0.373" stop-color="#22ffbf"/><stop offset="0.441" stop-color="#63ffb8"/><stop offset="0.508" stop-color="#8fffb0"/><stop offset="0.610" stop-color="#bfffa1"/><stop offset="0.763" stop-color="#fcff84"/><stop offset="1.000" stop-color="#ffc124"/></linearGradient><linearGradient id="r84" gradientUnits="userSpaceOnUse" x1="84.4" x2="323.0"><stop offset="0.000" stop-color="#09ffde"/><stop offset="0.237" stop-color="#0dffcd"/><stop offset="0.339" stop-color="#16ffc4"/><stop offset="0.373" stop-color="#26ffc1"/><stop offset="0.424" stop-color="#5bffbc"/><stop offset="0.492" stop-color="#89ffb4"/><stop offset="0.593" stop-color="#bcffa6"/><stop offset="0.746" stop-color="#faff89"/><stop offset="0.763" stop-color="#fffe85"/><stop offset="0.864" stop-color="#ffde5b"/><stop offset="1.000" stop-color="#ffbe25"/></linearGradient><linearGradient id="r85" gradientUnits="userSpaceOnUse" x1="84.7" x2="325.0"><stop offset="0.000" stop-color="#09ffe0"/><stop offset="0.233" stop-color="#0dffd0"/><stop offset="0.333" stop-color="#16ffc7"/><stop offset="0.367" stop-color="#25ffc4"/><stop offset="0.433" stop-color="#68ffbc"/><stop offset="0.500" stop-color="#92ffb5"/><stop offset="0.600" stop-color="#c3ffa7"/><stop offset="0.733" stop-color="#faff8e"/><stop offset="0.750" stop-color="#fffe8a"/><stop offset="0.867" stop-color="#ffd959"/><stop offset="1.000" stop-color="#ffbb25"/></linearGradient><linearGradient id="r86" gradientUnits="userSpaceOnUse" x1="85.0" x2="327.0"><stop offset="0.000" stop-color="#09ffe2"/><stop offset="0.233" stop-color="#0dffd1"/><stop offset="0.333" stop-color="#17ffc9"/><stop offset="0.367" stop-color="#2affc5"/><stop offset="0.417" stop-color="#5fffc0"/><stop offset="0.483" stop-color="#8dffb8"/><stop offset="0.583" stop-color="#c0ffab"/><stop offset="0.733" stop-color="#feff90"/><stop offset="0.850" stop-color="#ffda60"/><stop offset="1.000" stop-color="#ffb825"/></linearGradient><linearGradient id="r87" gradientUnits="userSpaceOnUse" x1="85.2" x2="329.0"><stop offset="0.000" stop-color="#09ffe4"/><stop offset="0.233" stop-color="#0dffd3"/><stop offset="0.333" stop-color="#19ffcb"/><stop offset="0.350" stop-color="#20ffc9"/><stop offset="0.417" stop-color="#65ffc2"/><stop offset="0.483" stop-color="#92ffba"/><stop offset="0.583" stop-color="#c4ffad"/><stop offset="0.717" stop-color="#fcff95"/><stop offset="0.850" stop-color="#ffd660"/><stop offset="1.000" stop-color="#ffb425"/></linearGradient><linearGradient id="r88" gradientUnits="userSpaceOnUse" x1="85.5" x2="331.0"><stop offset="0.000" stop-color="#09ffe5"/><stop offset="0.230" stop-color="#0dffd6"/><stop offset="0.328" stop-color="#18ffcd"/><stop offset="0.344" stop-color="#20ffcb"/><stop offset="0.410" stop-color="#64ffc5"/><stop offset="0.475" stop-color="#91ffbd"/><stop offset="0.574" stop-color="#c4ffb0"/><stop offset="0.705" stop-color="#fcff99"/><stop offset="0.852" stop-color="#ffd25e"/><stop offset="1.000" stop-color="#ffb125"/></linearGradient><linearGradient id="r89" gradientUnits="userSpaceOnUse" x1="85.8" x2="333.0"><stop offset="0.000" stop-color="#09ffe7"/><stop offset="0.246" stop-color="#0effd6"/><stop offset="0.328" stop-color="#1affcf"/><stop offset="0.344" stop-color="#24ffcd"/><stop offset="0.410" stop-color="#69ffc7"/><stop offset="0.459" stop-color="#8cffc1"/><stop offset="0.574" stop-color="#c8ffb2"/><stop offset="0.705" stop-color="#fffd9a"/><stop offset="0.836" stop-color="#ffd264"/><stop offset="1.000" stop-color="#ffae25"/></linearGradient><linearGradient id="r90" gradientUnits="userSpaceOnUse" x1="86.0" x2="335.0"><stop offset="0.000" stop-color="#09ffe9"/><stop offset="0.242" stop-color="#0effd8"/><stop offset="0.323" stop-color="#1affd1"/><stop offset="0.339" stop-color="#23ffd0"/><stop offset="0.403" stop-color="#69ffc9"/><stop offset="0.452" stop-color="#8bffc4"/><stop offset="0.565" stop-color="#c8ffb5"/><stop offset="0.694" stop-color="#fffd9e"/><stop offset="0.823" stop-color="#ffd269"/><stop offset="1.000" stop-color="#ffab25"/></linearGradient><linearGradient id="r91" gradientUnits="userSpaceOnUse" x1="86.3" x2="337.0"><stop offset="0.000" stop-color="#09ffeb"/><stop offset="0.242" stop-color="#0effda"/><stop offset="0.323" stop-color="#1cffd3"/><stop offset="0.339" stop-color="#28ffd2"/><stop offset="0.387" stop-color="#60ffcd"/><stop offset="0.452" stop-color="#90ffc6"/><stop offset="0.548" stop-color="#c5ffba"/><stop offset="0.677" stop-color="#ffffa5"/><stop offset="0.823" stop-color="#ffcf69"/><stop offset="1.000" stop-color="#ffa826"/></linearGradient><linearGradient id="r92" gradientUnits="userSpaceOnUse" x1="86.6" x2="339.0"><stop offset="0.000" stop-color="#09ffed"/><stop offset="0.238" stop-color="#0effdd"/><stop offset="0.317" stop-color="#1cffd6"/><stop offset="0.333" stop-color="#28ffd5"/><stop offset="0.381" stop-color="#60ffd0"/><stop offset="0.444" stop-color="#90ffc9"/><stop offset="0.540" stop-color="#c5ffbd"/><stop offset="0.667" stop-color="#ffffa9"/><stop offset="0.810" stop-color="#ffcf6e"/><stop offset="1.000" stop-color="#ffa526"/></linearGradient><linearGradient id="r93" gradientUnits="userSpaceOnUse" x1="86.9" x2="341.0"><stop offset="0.000" stop-color="#09ffef"/><stop offset="0.222" stop-color="#0dffe0"/><stop offset="0.302" stop-color="#17ffda"/><stop offset="0.317" stop-color="#1effd8"/><stop offset="0.381" stop-color="#65ffd2"/><stop offset="0.429" stop-color="#8affcd"/><stop offset="0.524" stop-color="#c1ffc1"/><stop offset="0.651" stop-color="#fdffae"/><stop offset="0.810" stop-color="#ffcb6d"/><stop offset="1.000" stop-color="#ffa226"/></linearGradient><linearGradient id="r94" gradientUnits="userSpaceOnUse" x1="87.2" x2="343.0"><stop offset="0.000" stop-color="#09fff1"/><stop offset="0.222" stop-color="#0effe2"/><stop offset="0.302" stop-color="#19ffdc"/><stop offset="0.317" stop-color="#22ffda"/><stop offset="0.381" stop-color="#6affd4"/><stop offset="0.429" stop-color="#8effcf"/><stop offset="0.524" stop-color="#c5ffc4"/><stop offset="0.651" stop-color="#fffdae"/><stop offset="0.794" stop-color="#ffcc73"/><stop offset="1.000" stop-color="#ff9f26"/></linearGradient><linearGradient id="r95" gradientUnits="userSpaceOnUse" x1="87.5" x2="345.0"><stop offset="0.000" stop-color="#09fff3"/><stop offset="0.219" stop-color="#0effe5"/><stop offset="0.297" stop-color="#19ffde"/><stop offset="0.312" stop-color="#21ffdd"/><stop offset="0.375" stop-color="#6affd7"/><stop offset="0.422" stop-color="#8effd2"/><stop offset="0.531" stop-color="#cdffc5"/><stop offset="0.641" stop-color="#fffcb2"/><stop offset="0.797" stop-color="#ffc771"/><stop offset="1.000" stop-color="#ff9c26"/></linearGradient><linearGradient id="r96" gradientUnits="userSpaceOnUse" x1="87.8" x2="347.0"><stop offset="0.000" stop-color="#09fff5"/><stop offset="0.219" stop-color="#0effe7"/><stop offset="0.297" stop-color="#1affe0"/><stop offset="0.312" stop-color="#26ffdf"/><stop offset="0.359" stop-color="#61ffdb"/><stop offset="0.422" stop-color="#93ffd4"/><stop offset="0.500" stop-color="#c1ffcb"/><stop offset="0.625" stop-color="#ffffb9"/><stop offset="0.781" stop-color="#ffc877"/><stop offset="1.000" stop-color="#ff9826"/></linearGradient><linearGradient id="r97" gradientUnits="userSpaceOnUse" x1="88.1" x2="349.0"><stop offset="0.000" stop-color="#09fff7"/><stop offset="0.215" stop-color="#0effe9"/><stop offset="0.292" stop-color="#1affe3"/><stop offset="0.308" stop-color="#26ffe2"/><stop offset="0.354" stop-color="#60ffdd"/><stop offset="0.415" stop-color="#93ffd7"/><stop offset="0.508" stop-color="#caffcd"/><stop offset="0.615" stop-color="#fffebc"/><stop offset="0.769" stop-color="#ffc77b"/><stop offset="1.000" stop-color="#ff9526"/></linearGradient><linearGradient id="r98" gradientUnits="userSpaceOnUse" x1="88.4" x2="351.0"><stop offset="0.000" stop-color="#09fff9"/><stop offset="0.200" stop-color="#0dffec"/><stop offset="0.277" stop-color="#16ffe7"/><stop offset="0.292" stop-color="#1dffe5"/><stop offset="0.308" stop-color="#2bffe4"/><stop offset="0.354" stop-color="#66ffe0"/><stop offset="0.400" stop-color="#8dffdb"/><stop offset="0.477" stop-color="#bdffd3"/><stop offset="0.600" stop-color="#fdffc2"/><stop offset="0.769" stop-color="#ffc47a"/><stop offset="1.000" stop-color="#ff9327"/></linearGradient><linearGradient id="r99" gradientUnits="userSpaceOnUse" x1="88.8" x2="353.0"><stop offset="0.000" stop-color="#09fffb"/><stop offset="0.197" stop-color="#0dffef"/><stop offset="0.273" stop-color="#16ffe9"/><stop offset="0.288" stop-color="#1dffe8"/><stop offset="0.303" stop-color="#2bffe7"/><stop offset="0.348" stop-color="#66ffe3"/><stop offset="0.394" stop-color="#8dffde"/><stop offset="0.470" stop-color="#beffd6"/><stop offset="0.591" stop-color="#feffc6"/><stop offset="0.758" stop-color="#ffc37e"/><stop offset="1.000" stop-color="#ff9027"/></linearGradient><linearGradient id="r100" gradientUnits="userSpaceOnUse" x1="89.1" x2="355.0"><stop offset="0.000" stop-color="#09fffd"/><stop offset="0.197" stop-color="#0dfff1"/><stop offset="0.273" stop-color="#17ffeb"/><stop offset="0.288" stop-color="#20ffea"/><stop offset="0.348" stop-color="#6cffe5"/><stop offset="0.394" stop-color="#91ffe1"/><stop offset="0.485" stop-color="#cbffd7"/><stop offset="0.591" stop-color="#fffcc5"/><stop offset="0.667" stop-color="#ffdca1"/><stop offset="0.758" stop-color="#ffc07e"/><stop offset="1.000" stop-color="#ff8d27"/></linearGradient><linearGradient id="r101" gradientUnits="userSpaceOnUse" x1="89.4" x2="357.0"><stop offset="0.000" stop-color="#09ffff"/><stop offset="0.197" stop-color="#0dfff3"/><stop offset="0.273" stop-color="#19ffee"/><stop offset="0.288" stop-color="#24ffed"/><stop offset="0.333" stop-color="#62ffe9"/><stop offset="0.379" stop-color="#8bffe5"/><stop offset="0.470" stop-color="#c7ffdb"/><stop offset="0.576" stop-color="#fffecc"/><stop offset="0.652" stop-color="#ffdda7"/><stop offset="0.742" stop-color="#ffc083"/><stop offset="1.000" stop-color="#ff8a27"/></linearGradient><linearGradient id="r102" gradientUnits="userSpaceOnUse" x1="89.7" x2="359.0"><stop offset="0.000" stop-color="#09fcff"/><stop offset="0.194" stop-color="#0dfff6"/><stop offset="0.269" stop-color="#19fff1"/><stop offset="0.284" stop-color="#24ffef"/><stop offset="0.328" stop-color="#62ffec"/><stop offset="0.373" stop-color="#8bffe8"/><stop offset="0.463" stop-color="#c7ffde"/><stop offset="0.567" stop-color="#fffed0"/><stop offset="0.642" stop-color="#ffddab"/><stop offset="0.746" stop-color="#ffbc81"/><stop offset="1.000" stop-color="#ff8727"/></linearGradient><linearGradient id="r103" gradientUnits="userSpaceOnUse" x1="90.1" x2="361.0"><stop offset="0.000" stop-color="#09faff"/><stop offset="0.194" stop-color="#0dfff8"/><stop offset="0.269" stop-color="#1bfff3"/><stop offset="0.284" stop-color="#29fff2"/><stop offset="0.328" stop-color="#67ffee"/><stop offset="0.373" stop-color="#90ffea"/><stop offset="0.448" stop-color="#c3ffe3"/><stop offset="0.552" stop-color="#feffd6"/><stop offset="0.642" stop-color="#ffd9aa"/><stop offset="0.731" stop-color="#ffbc86"/><stop offset="1.000" stop-color="#ff8427"/></linearGradient><linearGradient id="r104" gradientUnits="userSpaceOnUse" x1="90.4" x2="363.0"><stop offset="0.000" stop-color="#09f8ff"/><stop offset="0.191" stop-color="#0dfffb"/><stop offset="0.265" stop-color="#1bfff6"/><stop offset="0.279" stop-color="#2afff5"/><stop offset="0.324" stop-color="#68fff1"/><stop offset="0.368" stop-color="#90ffed"/><stop offset="0.441" stop-color="#c3ffe6"/><stop offset="0.544" stop-color="#feffda"/><stop offset="0.632" stop-color="#ffd8ad"/><stop offset="0.721" stop-color="#ffbc89"/><stop offset="1.000" stop-color="#ff8127"/></linearGradient><linearGradient id="r105" gradientUnits="userSpaceOnUse" x1="90.8" x2="365.0"><stop offset="0.000" stop-color="#09f6ff"/><stop offset="0.176" stop-color="#0dfffe"/><stop offset="0.250" stop-color="#16fff9"/><stop offset="0.265" stop-color="#1efff8"/><stop offset="0.309" stop-color="#5dfff5"/><stop offset="0.353" stop-color="#89fff1"/><stop offset="0.426" stop-color="#bfffea"/><stop offset="0.529" stop-color="#fbffde"/><stop offset="0.632" stop-color="#ffd4ac"/><stop offset="0.721" stop-color="#ffb889"/><stop offset="1.000" stop-color="#ff7e27"/></linearGradient><linearGradient id="r106" gradientUnits="userSpaceOnUse" x1="91.1" x2="367.0"><stop offset="0.000" stop-color="#09f4ff"/><stop offset="0.176" stop-color="#0dfdff"/><stop offset="0.250" stop-color="#18fffc"/><stop offset="0.265" stop-color="#22fffb"/><stop offset="0.309" stop-color="#63fff8"/><stop offset="0.353" stop-color="#8efff4"/><stop offset="0.426" stop-color="#c3ffed"/><stop offset="0.529" stop-color="#fffde0"/><stop offset="0.618" stop-color="#ffd5b2"/><stop offset="0.721" stop-color="#ffb488"/><stop offset="1.000" stop-color="#ff7b28"/></linearGradient><linearGradient id="r107" gradientUnits="userSpaceOnUse" x1="91.5" x2="369.0"><stop offset="0.000" stop-color="#09f2ff"/><stop offset="0.174" stop-color="#0dfaff"/><stop offset="0.246" stop-color="#18ffff"/><stop offset="0.261" stop-color="#22fffe"/><stop offset="0.304" stop-color="#64fffb"/><stop offset="0.348" stop-color="#8ffff7"/><stop offset="0.435" stop-color="#ceffef"/><stop offset="0.522" stop-color="#fffce3"/><stop offset="0.609" stop-color="#ffd5b5"/><stop offset="0.710" stop-color="#ffb48c"/><stop offset="1.000" stop-color="#ff7828"/></linearGradient><linearGradient id="r108" gradientUnits="userSpaceOnUse" x1="91.9" x2="371.0"><stop offset="0.000" stop-color="#09f0ff"/><stop offset="0.188" stop-color="#0ef9ff"/><stop offset="0.246" stop-color="#1afcff"/><stop offset="0.261" stop-color="#28fdff"/><stop offset="0.304" stop-color="#6afffd"/><stop offset="0.333" stop-color="#87fffb"/><stop offset="0.406" stop-color="#bffff5"/><stop offset="0.507" stop-color="#feffea"/><stop offset="0.594" stop-color="#ffd6bb"/><stop offset="0.696" stop-color="#ffb490"/><stop offset="0.826" stop-color="#ff9463"/><stop offset="1.000" stop-color="#ff7428"/></linearGradient><linearGradient id="r109" gradientUnits="userSpaceOnUse" x1="92.2" x2="373.1"><stop offset="0.000" stop-color="#09eeff"/><stop offset="0.186" stop-color="#0ff6ff"/><stop offset="0.243" stop-color="#1bfaff"/><stop offset="0.257" stop-color="#28fbff"/><stop offset="0.300" stop-color="#6afeff"/><stop offset="0.329" stop-color="#88fffe"/><stop offset="0.400" stop-color="#c0fff8"/><stop offset="0.500" stop-color="#ffffee"/><stop offset="0.586" stop-color="#ffd5be"/><stop offset="0.686" stop-color="#ffb394"/><stop offset="0.829" stop-color="#ff9162"/><stop offset="1.000" stop-color="#ff7128"/></linearGradient><linearGradient id="r110" gradientUnits="userSpaceOnUse" x1="92.6" x2="375.1"><stop offset="0.000" stop-color="#09ebff"/><stop offset="0.157" stop-color="#0df2ff"/><stop offset="0.229" stop-color="#16f6ff"/><stop offset="0.243" stop-color="#1df7ff"/><stop offset="0.286" stop-color="#5dfaff"/><stop offset="0.343" stop-color="#99feff"/><stop offset="0.400" stop-color="#c5fffb"/><stop offset="0.486" stop-color="#fcfff3"/><stop offset="0.586" stop-color="#ffd1bc"/><stop offset="0.686" stop-color="#ffb093"/><stop offset="0.829" stop-color="#ff8d62"/><stop offset="1.000" stop-color="#ff6e28"/></linearGradient><linearGradient id="r111" gradientUnits="userSpaceOnUse" x1="93.0" x2="377.1"><stop offset="0.000" stop-color="#09e9ff"/><stop offset="0.155" stop-color="#0df0ff"/><stop offset="0.225" stop-color="#17f3ff"/><stop offset="0.239" stop-color="#1ef4ff"/><stop offset="0.282" stop-color="#5df7ff"/><stop offset="0.338" stop-color="#98fbff"/><stop offset="0.394" stop-color="#c6ffff"/><stop offset="0.479" stop-color="#fdfff7"/><stop offset="0.563" stop-color="#ffd6c6"/><stop offset="0.676" stop-color="#ffaf96"/><stop offset="0.817" stop-color="#ff8d65"/><stop offset="1.000" stop-color="#ff6b28"/></linearGradient><linearGradient id="r112" gradientUnits="userSpaceOnUse" x1="93.4" x2="379.1"><stop offset="0.000" stop-color="#09e7ff"/><stop offset="0.169" stop-color="#0eeeff"/><stop offset="0.225" stop-color="#18f1ff"/><stop offset="0.239" stop-color="#22f2ff"/><stop offset="0.282" stop-color="#62f4ff"/><stop offset="0.324" stop-color="#8ef7ff"/><stop offset="0.423" stop-color="#defeff"/><stop offset="0.479" stop-color="#fffbf6"/><stop offset="0.563" stop-color="#ffd1c5"/><stop offset="0.676" stop-color="#ffab95"/><stop offset="0.817" stop-color="#ff8965"/><stop offset="1.000" stop-color="#ff6828"/></linearGradient><linearGradient id="r113" gradientUnits="userSpaceOnUse" x1="93.7" x2="381.1"><stop offset="0.000" stop-color="#09e5ff"/><stop offset="0.169" stop-color="#0febff"/><stop offset="0.225" stop-color="#1aeeff"/><stop offset="0.239" stop-color="#27efff"/><stop offset="0.282" stop-color="#66f1ff"/><stop offset="0.310" stop-color="#85f3ff"/><stop offset="0.366" stop-color="#b5f7ff"/><stop offset="0.465" stop-color="#fffefe"/><stop offset="0.549" stop-color="#ffd3cb"/><stop offset="0.662" stop-color="#ffac9a"/><stop offset="0.803" stop-color="#ff8969"/><stop offset="1.000" stop-color="#ff6528"/></linearGradient><linearGradient id="r114" gradientUnits="userSpaceOnUse" x1="94.1" x2="383.1"><stop offset="0.000" stop-color="#09e3ff"/><stop offset="0.167" stop-color="#0fe9ff"/><stop offset="0.222" stop-color="#1bebff"/><stop offset="0.236" stop-color="#28ecff"/><stop offset="0.278" stop-color="#66eeff"/><stop offset="0.306" stop-color="#84f0ff"/><stop offset="0.458" stop-color="#fdfbff"/><stop offset="0.556" stop-color="#ffccc7"/><stop offset="0.667" stop-color="#ffa798"/><stop offset="0.806" stop-color="#ff8568"/><stop offset="1.000" stop-color="#ff6228"/></linearGradient><linearGradient id="r115" gradientUnits="userSpaceOnUse" x1="94.5" x2="385.1"><stop offset="0.000" stop-color="#09e1ff"/><stop offset="0.167" stop-color="#0fe7ff"/><stop offset="0.222" stop-color="#1ee9ff"/><stop offset="0.264" stop-color="#5aebff"/><stop offset="0.306" stop-color="#87edff"/><stop offset="0.458" stop-color="#fff7ff"/><stop offset="0.542" stop-color="#ffcdcd"/><stop offset="0.653" stop-color="#ffa79c"/><stop offset="0.806" stop-color="#ff8268"/><stop offset="1.000" stop-color="#ff5e28"/></linearGradient><linearGradient id="r116" gradientUnits="userSpaceOnUse" x1="94.9" x2="387.1"><stop offset="0.000" stop-color="#0adfff"/><stop offset="0.164" stop-color="#0fe4ff"/><stop offset="0.219" stop-color="#1ee6ff"/><stop offset="0.260" stop-color="#5ae8ff"/><stop offset="0.301" stop-color="#87eaff"/><stop offset="0.452" stop-color="#fcf3ff"/><stop offset="0.548" stop-color="#ffc6c8"/><stop offset="0.658" stop-color="#ffa29a"/><stop offset="0.808" stop-color="#ff7e67"/><stop offset="1.000" stop-color="#ff5b28"/></linearGradient><linearGradient id="r117" gradientUnits="userSpaceOnUse" x1="95.3" x2="389.1"><stop offset="0.000" stop-color="#0addff"/><stop offset="0.151" stop-color="#0fe1ff"/><stop offset="0.205" stop-color="#19e3ff"/><stop offset="0.219" stop-color="#22e4ff"/><stop offset="0.260" stop-color="#5fe5ff"/><stop offset="0.301" stop-color="#8ae7ff"/><stop offset="0.452" stop-color="#fef0ff"/><stop offset="0.548" stop-color="#ffc2c7"/><stop offset="0.658" stop-color="#ff9e99"/><stop offset="0.808" stop-color="#ff7b67"/><stop offset="1.000" stop-color="#ff5829"/></linearGradient><linearGradient id="r118" gradientUnits="userSpaceOnUse" x1="95.7" x2="391.1"><stop offset="0.000" stop-color="#0adbff"/><stop offset="0.151" stop-color="#0fdfff"/><stop offset="0.205" stop-color="#1be0ff"/><stop offset="0.219" stop-color="#26e1ff"/><stop offset="0.260" stop-color="#63e2ff"/><stop offset="0.301" stop-color="#8de4ff"/><stop offset="0.452" stop-color="#ffecfe"/><stop offset="0.534" stop-color="#ffc3cd"/><stop offset="0.658" stop-color="#ff9b99"/><stop offset="0.808" stop-color="#ff7766"/><stop offset="1.000" stop-color="#ff5429"/></linearGradient><linearGradient id="r119" gradientUnits="userSpaceOnUse" x1="96.1" x2="393.1"><stop offset="0.000" stop-color="#0ad9ff"/><stop offset="0.149" stop-color="#0fdcff"/><stop offset="0.203" stop-color="#1bdeff"/><stop offset="0.216" stop-color="#28deff"/><stop offset="0.257" stop-color="#63e0ff"/><stop offset="0.284" stop-color="#80e1ff"/><stop offset="0.338" stop-color="#aee3ff"/><stop offset="0.446" stop-color="#fee9ff"/><stop offset="0.541" stop-color="#ffbdc9"/><stop offset="0.649" stop-color="#ff9a9c"/><stop offset="0.797" stop-color="#ff766a"/><stop offset="1.000" stop-color="#ff5129"/></linearGradient><linearGradient id="r120" gradientUnits="userSpaceOnUse" x1="96.6" x2="395.1"><stop offset="0.000" stop-color="#0ad7ff"/><stop offset="0.149" stop-color="#10daff"/><stop offset="0.203" stop-color="#1edbff"/><stop offset="0.243" stop-color="#57dcff"/><stop offset="0.284" stop-color="#83deff"/><stop offset="0.351" stop-color="#bbe0ff"/><stop offset="0.446" stop-color="#ffe5ff"/><stop offset="0.527" stop-color="#ffbece"/><stop offset="0.649" stop-color="#ff969b"/><stop offset="0.797" stop-color="#ff7369"/><stop offset="1.000" stop-color="#ff4d29"/></linearGradient><linearGradient id="r121" gradientUnits="userSpaceOnUse" x1="97.0" x2="397.1"><stop offset="0.000" stop-color="#0ad4ff"/><stop offset="0.147" stop-color="#10d7ff"/><stop offset="0.200" stop-color="#1fd9ff"/><stop offset="0.240" stop-color="#58daff"/><stop offset="0.280" stop-color="#83dbff"/><stop offset="0.440" stop-color="#fde1ff"/><stop offset="0.533" stop-color="#ffb7ca"/><stop offset="0.653" stop-color="#ff9199"/><stop offset="1.000" stop-color="#ff4929"/></linearGradient><linearGradient id="r122" gradientUnits="userSpaceOnUse" x1="97.4" x2="399.1"><stop offset="0.000" stop-color="#0ad2ff"/><stop offset="0.133" stop-color="#0fd5ff"/><stop offset="0.187" stop-color="#19d6ff"/><stop offset="0.200" stop-color="#22d6ff"/><stop offset="0.240" stop-color="#5cd7ff"/><stop offset="0.280" stop-color="#86d8ff"/><stop offset="0.440" stop-color="#ffdeff"/><stop offset="0.533" stop-color="#ffb3c9"/><stop offset="0.640" stop-color="#ff919d"/><stop offset="0.787" stop-color="#ff6e6c"/><stop offset="1.000" stop-color="#ff4629"/></linearGradient><linearGradient id="r123" gradientUnits="userSpaceOnUse" x1="97.8" x2="401.1"><stop offset="0.000" stop-color="#0ad0ff"/><stop offset="0.133" stop-color="#0fd2ff"/><stop offset="0.187" stop-color="#1bd3ff"/><stop offset="0.200" stop-color="#26d4ff"/><stop offset="0.240" stop-color="#61d4ff"/><stop offset="0.280" stop-color="#89d5ff"/><stop offset="0.347" stop-color="#bed7ff"/><stop offset="0.440" stop-color="#ffd9fd"/><stop offset="0.520" stop-color="#ffb4cf"/><stop offset="0.640" stop-color="#ff8d9d"/><stop offset="1.000" stop-color="#ff4229"/></linearGradient><linearGradient id="r124" gradientUnits="userSpaceOnUse" x1="98.2" x2="403.1"><stop offset="0.000" stop-color="#0aceff"/><stop offset="0.132" stop-color="#10d0ff"/><stop offset="0.184" stop-color="#1cd1ff"/><stop offset="0.197" stop-color="#28d1ff"/><stop offset="0.237" stop-color="#61d2ff"/><stop offset="0.276" stop-color="#89d2ff"/><stop offset="0.434" stop-color="#fed6ff"/><stop offset="0.513" stop-color="#ffb2d1"/><stop offset="0.618" stop-color="#ff90a4"/><stop offset="0.776" stop-color="#ff696f"/><stop offset="1.000" stop-color="#ff3e29"/></linearGradient><linearGradient id="r125" gradientUnits="userSpaceOnUse" x1="98.7" x2="405.1"><stop offset="0.000" stop-color="#0accff"/><stop offset="0.132" stop-color="#10cdff"/><stop offset="0.184" stop-color="#1eceff"/><stop offset="0.224" stop-color="#55cfff"/><stop offset="0.263" stop-color="#80cfff"/><stop offset="0.329" stop-color="#b6d0ff"/><stop offset="0.434" stop-color="#ffd2fe"/><stop offset="0.513" stop-color="#ffaed0"/><stop offset="0.618" stop-color="#ff8ca3"/><stop offset="0.776" stop-color="#ff666f"/><stop offset="1.000" stop-color="#ff3a29"/></linearGradient><linearGradient id="r126" gradientUnits="userSpaceOnUse" x1="99.1" x2="407.2"><stop offset="0.000" stop-color="#0acaff"/><stop offset="0.130" stop-color="#10cbff"/><stop offset="0.182" stop-color="#1fccff"/><stop offset="0.221" stop-color="#56ccff"/><stop offset="0.260" stop-color="#80ccff"/><stop offset="0.325" stop-color="#b5cdff"/><stop offset="0.429" stop-color="#fecfff"/><stop offset="0.506" stop-color="#ffacd2"/><stop offset="0.610" stop-color="#ff8aa6"/><stop offset="0.766" stop-color="#ff6472"/><stop offset="1.000" stop-color="#ff3629"/></linearGradient><linearGradient id="r127" gradientUnits="userSpaceOnUse" x1="99.6" x2="409.2"><stop offset="0.000" stop-color="#0ac8ff"/><stop offset="0.117" stop-color="#0fc9ff"/><stop offset="0.169" stop-color="#1ac9ff"/><stop offset="0.182" stop-color="#23c9ff"/><stop offset="0.221" stop-color="#5bc9ff"/><stop offset="0.260" stop-color="#83caff"/><stop offset="0.325" stop-color="#b7caff"/><stop offset="0.429" stop-color="#ffcbfe"/><stop offset="0.506" stop-color="#ffa8d1"/><stop offset="0.610" stop-color="#ff86a5"/><stop offset="0.779" stop-color="#ff5e6d"/><stop offset="1.000" stop-color="#ff3229"/></linearGradient><linearGradient id="r128" gradientUnits="userSpaceOnUse" x1="100.0" x2="411.2"><stop offset="0.000" stop-color="#0bc6ff"/><stop offset="0.117" stop-color="#10c6ff"/><stop offset="0.169" stop-color="#1bc6ff"/><stop offset="0.182" stop-color="#27c6ff"/><stop offset="0.221" stop-color="#5fc7ff"/><stop offset="0.260" stop-color="#86c7ff"/><stop offset="0.338" stop-color="#c3c7ff"/><stop offset="0.429" stop-color="#ffc6fd"/><stop offset="0.506" stop-color="#ffa4d0"/><stop offset="0.610" stop-color="#ff83a4"/><stop offset="0.792" stop-color="#ff5769"/><stop offset="1.000" stop-color="#ff2f29"/></linearGradient><linearGradient id="r129" gradientUnits="userSpaceOnUse" x1="100.5" x2="412.2"><stop offset="0.000" stop-color="#0bc4ff"/><stop offset="0.117" stop-color="#10c4ff"/><stop offset="0.169" stop-color="#1dc4ff"/><stop offset="0.221" stop-color="#62c4ff"/><stop offset="0.260" stop-color="#88c4ff"/><stop offset="0.338" stop-color="#c4c4ff"/><stop offset="0.429" stop-color="#ffc2fc"/><stop offset="0.506" stop-color="#ffa0d0"/><stop offset="0.610" stop-color="#ff7fa5"/><stop offset="0.805" stop-color="#ff5166"/><stop offset="1.000" stop-color="#ff2c2a"/></linearGradient><linearGradient id="r130" gradientUnits="userSpaceOnUse" x1="100.9" x2="411.8"><stop offset="0.000" stop-color="#0bc2ff"/><stop offset="0.117" stop-color="#10c1ff"/><stop offset="0.169" stop-color="#1fc1ff"/><stop offset="0.221" stop-color="#64c1ff"/><stop offset="0.260" stop-color="#89c1ff"/><stop offset="0.338" stop-color="#c4c1ff"/><stop offset="0.429" stop-color="#ffbffc"/><stop offset="0.506" stop-color="#ff9dd1"/><stop offset="0.610" stop-color="#ff7da6"/><stop offset="0.818" stop-color="#ff4b64"/><stop offset="1.000" stop-color="#ff292c"/></linearGradient><linearGradient id="r131" gradientUnits="userSpaceOnUse" x1="101.4" x2="407.6"><stop offset="0.000" stop-color="#0bbfff"/><stop offset="0.105" stop-color="#0fbfff"/><stop offset="0.158" stop-color="#19bfff"/><stop offset="0.171" stop-color="#21bfff"/><stop offset="0.224" stop-color="#66beff"/><stop offset="0.263" stop-color="#8abeff"/><stop offset="0.342" stop-color="#c4beff"/><stop offset="0.434" stop-color="#ffbbfd"/><stop offset="0.513" stop-color="#ff9ad2"/><stop offset="0.618" stop-color="#ff7aa7"/><stop offset="0.842" stop-color="#ff4561"/><stop offset="1.000" stop-color="#ff2932"/></linearGradient><linearGradient id="r132" gradientUnits="userSpaceOnUse" x1="101.9" x2="403.3"><stop offset="0.000" stop-color="#0bbdff"/><stop offset="0.107" stop-color="#10bdff"/><stop offset="0.160" stop-color="#1abcff"/><stop offset="0.173" stop-color="#24bcff"/><stop offset="0.227" stop-color="#68bcff"/><stop offset="0.267" stop-color="#8cbbff"/><stop offset="0.440" stop-color="#ffb8fd"/><stop offset="0.520" stop-color="#ff97d2"/><stop offset="0.627" stop-color="#ff77a8"/><stop offset="0.840" stop-color="#ff4567"/><stop offset="1.000" stop-color="#ff2838"/></linearGradient><linearGradient id="r133" gradientUnits="userSpaceOnUse" x1="102.4" x2="399.0"><stop offset="0.000" stop-color="#0bbbff"/><stop offset="0.108" stop-color="#10baff"/><stop offset="0.162" stop-color="#1cbaff"/><stop offset="0.176" stop-color="#26baff"/><stop offset="0.216" stop-color="#5cb9ff"/><stop offset="0.257" stop-color="#82b9ff"/><stop offset="0.338" stop-color="#bcb7ff"/><stop offset="0.446" stop-color="#ffb4fe"/><stop offset="0.527" stop-color="#ff94d3"/><stop offset="0.635" stop-color="#ff74a9"/><stop offset="0.851" stop-color="#ff4268"/><stop offset="1.000" stop-color="#ff283e"/></linearGradient><linearGradient id="r134" gradientUnits="userSpaceOnUse" x1="102.9" x2="394.7"><stop offset="0.000" stop-color="#0bb9ff"/><stop offset="0.125" stop-color="#12b8ff"/><stop offset="0.167" stop-color="#1fb7ff"/><stop offset="0.222" stop-color="#61b6ff"/><stop offset="0.264" stop-color="#86b6ff"/><stop offset="0.361" stop-color="#c8b4ff"/><stop offset="0.444" stop-color="#fbb2ff"/><stop offset="0.458" stop-color="#ffaefa"/><stop offset="0.542" stop-color="#ff8fd1"/><stop offset="0.639" stop-color="#ff73ab"/><stop offset="0.861" stop-color="#ff3f6a"/><stop offset="1.000" stop-color="#ff2744"/></linearGradient><linearGradient id="r135" gradientUnits="userSpaceOnUse" x1="103.4" x2="390.4"><stop offset="0.000" stop-color="#0bb7ff"/><stop offset="0.099" stop-color="#0fb6ff"/><stop offset="0.155" stop-color="#19b5ff"/><stop offset="0.169" stop-color="#21b5ff"/><stop offset="0.225" stop-color="#63b4ff"/><stop offset="0.268" stop-color="#87b3ff"/><stop offset="0.366" stop-color="#c9b1ff"/><stop offset="0.465" stop-color="#ffabfb"/><stop offset="0.549" stop-color="#ff8cd1"/><stop offset="0.648" stop-color="#ff70ac"/><stop offset="0.873" stop-color="#ff3c6c"/><stop offset="1.000" stop-color="#ff274a"/></linearGradient><linearGradient id="r136" gradientUnits="userSpaceOnUse" x1="103.9" x2="386.1"><stop offset="0.000" stop-color="#0bb5ff"/><stop offset="0.114" stop-color="#11b3ff"/><stop offset="0.157" stop-color="#1ab2ff"/><stop offset="0.171" stop-color="#23b2ff"/><stop offset="0.229" stop-color="#65b1ff"/><stop offset="0.271" stop-color="#88b0ff"/><stop offset="0.371" stop-color="#c9adff"/><stop offset="0.471" stop-color="#ffa7fb"/><stop offset="0.557" stop-color="#ff89d2"/><stop offset="0.657" stop-color="#ff6dad"/><stop offset="0.871" stop-color="#ff3c71"/><stop offset="1.000" stop-color="#ff2650"/></linearGradient><linearGradient id="r137" gradientUnits="userSpaceOnUse" x1="104.4" x2="381.8"><stop offset="0.000" stop-color="#0cb3ff"/><stop offset="0.116" stop-color="#11b1ff"/><stop offset="0.159" stop-color="#1bb0ff"/><stop offset="0.174" stop-color="#25b0ff"/><stop offset="0.232" stop-color="#67aeff"/><stop offset="0.275" stop-color="#8aadff"/><stop offset="0.377" stop-color="#c9aaff"/><stop offset="0.478" stop-color="#ffa4fc"/><stop offset="0.565" stop-color="#ff85d3"/><stop offset="0.667" stop-color="#ff69ae"/><stop offset="0.870" stop-color="#ff3b76"/><stop offset="1.000" stop-color="#ff2655"/></linearGradient><linearGradient id="r138" gradientUnits="userSpaceOnUse" x1="104.9" x2="377.5"><stop offset="0.000" stop-color="#0cb0ff"/><stop offset="0.118" stop-color="#12aeff"/><stop offset="0.162" stop-color="#1dadff"/><stop offset="0.176" stop-color="#28adff"/><stop offset="0.221" stop-color="#5cacff"/><stop offset="0.279" stop-color="#8baaff"/><stop offset="0.382" stop-color="#c9a7ff"/><stop offset="0.485" stop-color="#ffa0fc"/><stop offset="0.574" stop-color="#ff82d4"/><stop offset="0.676" stop-color="#ff66af"/><stop offset="0.882" stop-color="#ff3877"/><stop offset="1.000" stop-color="#ff255b"/></linearGradient><linearGradient id="r139" gradientUnits="userSpaceOnUse" x1="105.4" x2="373.2"><stop offset="0.000" stop-color="#0caeff"/><stop offset="0.121" stop-color="#13acff"/><stop offset="0.167" stop-color="#20abff"/><stop offset="0.227" stop-color="#61a9ff"/><stop offset="0.273" stop-color="#84a8ff"/><stop offset="0.485" stop-color="#fd9fff"/><stop offset="0.576" stop-color="#ff81d7"/><stop offset="0.682" stop-color="#ff64b2"/><stop offset="0.879" stop-color="#ff387d"/><stop offset="1.000" stop-color="#ff2560"/></linearGradient><linearGradient id="r140" gradientUnits="userSpaceOnUse" x1="105.9" x2="368.9"><stop offset="0.000" stop-color="#0cacff"/><stop offset="0.108" stop-color="#11aaff"/><stop offset="0.154" stop-color="#1aa8ff"/><stop offset="0.169" stop-color="#22a8ff"/><stop offset="0.231" stop-color="#63a6ff"/><stop offset="0.277" stop-color="#86a5ff"/><stop offset="0.492" stop-color="#fd9bff"/><stop offset="0.585" stop-color="#ff7dd7"/><stop offset="0.692" stop-color="#ff61b3"/><stop offset="0.877" stop-color="#ff3782"/><stop offset="1.000" stop-color="#ff2465"/></linearGradient><linearGradient id="r141" gradientUnits="userSpaceOnUse" x1="106.5" x2="364.6"><stop offset="0.000" stop-color="#0caaff"/><stop offset="0.109" stop-color="#12a7ff"/><stop offset="0.156" stop-color="#1ba6ff"/><stop offset="0.172" stop-color="#25a5ff"/><stop offset="0.234" stop-color="#65a3ff"/><stop offset="0.281" stop-color="#87a2ff"/><stop offset="0.500" stop-color="#fd97ff"/><stop offset="0.609" stop-color="#ff75d2"/><stop offset="0.703" stop-color="#ff5db4"/><stop offset="0.891" stop-color="#ff3483"/><stop offset="1.000" stop-color="#ff246a"/></linearGradient><linearGradient id="r142" gradientUnits="userSpaceOnUse" x1="107.0" x2="360.3"><stop offset="0.000" stop-color="#0ca8ff"/><stop offset="0.111" stop-color="#12a5ff"/><stop offset="0.159" stop-color="#1da3ff"/><stop offset="0.175" stop-color="#28a3ff"/><stop offset="0.222" stop-color="#5aa1ff"/><stop offset="0.286" stop-color="#889fff"/><stop offset="0.508" stop-color="#fc93ff"/><stop offset="0.714" stop-color="#ff5ab5"/><stop offset="0.889" stop-color="#ff3388"/><stop offset="1.000" stop-color="#ff236f"/></linearGradient><linearGradient id="r143" gradientUnits="userSpaceOnUse" x1="107.6" x2="356.0"><stop offset="0.000" stop-color="#0ca5ff"/><stop offset="0.113" stop-color="#12a2ff"/><stop offset="0.161" stop-color="#1fa1ff"/><stop offset="0.226" stop-color="#5c9eff"/><stop offset="0.274" stop-color="#7f9dff"/><stop offset="0.371" stop-color="#b598ff"/><stop offset="0.516" stop-color="#fc8fff"/><stop offset="0.726" stop-color="#ff56b6"/><stop offset="0.887" stop-color="#ff328d"/><stop offset="1.000" stop-color="#ff2374"/></linearGradient><linearGradient id="r144" gradientUnits="userSpaceOnUse" x1="108.1" x2="351.7"><stop offset="0.000" stop-color="#0ca3ff"/><stop offset="0.100" stop-color="#11a0ff"/><stop offset="0.150" stop-color="#1a9fff"/><stop offset="0.167" stop-color="#229eff"/><stop offset="0.233" stop-color="#619cff"/><stop offset="0.283" stop-color="#8399ff"/><stop offset="0.383" stop-color="#b994ff"/><stop offset="0.533" stop-color="#ff8aff"/><stop offset="0.717" stop-color="#ff57bc"/><stop offset="0.883" stop-color="#ff3292"/><stop offset="1.000" stop-color="#ff2279"/></linearGradient><linearGradient id="r145" gradientUnits="userSpaceOnUse" x1="108.7" x2="347.4"><stop offset="0.000" stop-color="#0da1ff"/><stop offset="0.102" stop-color="#129eff"/><stop offset="0.153" stop-color="#1b9cff"/><stop offset="0.169" stop-color="#259bff"/><stop offset="0.237" stop-color="#6399ff"/><stop offset="0.288" stop-color="#8496ff"/><stop offset="0.542" stop-color="#ff86ff"/><stop offset="0.729" stop-color="#ff53bd"/><stop offset="0.881" stop-color="#ff3197"/><stop offset="1.000" stop-color="#ff217e"/></linearGradient><linearGradient id="r146" gradientUnits="userSpaceOnUse" x1="109.3" x2="343.1"><stop offset="0.000" stop-color="#0d9eff"/><stop offset="0.103" stop-color="#129bff"/><stop offset="0.155" stop-color="#1d99ff"/><stop offset="0.172" stop-color="#2799ff"/><stop offset="0.224" stop-color="#5897ff"/><stop offset="0.293" stop-color="#8693ff"/><stop offset="0.552" stop-color="#ff82ff"/><stop offset="0.741" stop-color="#ff4fbe"/><stop offset="0.897" stop-color="#ff2d98"/><stop offset="1.000" stop-color="#ff2182"/></linearGradient><linearGradient id="r147" gradientUnits="userSpaceOnUse" x1="109.9" x2="338.8"><stop offset="0.000" stop-color="#0d9cff"/><stop offset="0.105" stop-color="#1399ff"/><stop offset="0.158" stop-color="#1f97ff"/><stop offset="0.228" stop-color="#5a94ff"/><stop offset="0.298" stop-color="#8790ff"/><stop offset="0.561" stop-color="#fe7dff"/><stop offset="0.754" stop-color="#ff4bbf"/><stop offset="0.895" stop-color="#ff2d9d"/><stop offset="1.000" stop-color="#ff2087"/></linearGradient><linearGradient id="r148" gradientUnits="userSpaceOnUse" x1="110.5" x2="334.5"><stop offset="0.000" stop-color="#0d9aff"/><stop offset="0.145" stop-color="#1a95ff"/><stop offset="0.164" stop-color="#2294ff"/><stop offset="0.236" stop-color="#6091ff"/><stop offset="0.309" stop-color="#8b8dff"/><stop offset="0.436" stop-color="#c685ff"/><stop offset="0.582" stop-color="#ff76fc"/><stop offset="0.691" stop-color="#ff59d6"/><stop offset="0.836" stop-color="#ff37af"/><stop offset="1.000" stop-color="#ff208c"/></linearGradient><linearGradient id="r149" gradientUnits="userSpaceOnUse" x1="111.1" x2="330.2"><stop offset="0.000" stop-color="#0d97ff"/><stop offset="0.093" stop-color="#1294ff"/><stop offset="0.148" stop-color="#1c92ff"/><stop offset="0.167" stop-color="#2591ff"/><stop offset="0.241" stop-color="#628eff"/><stop offset="0.315" stop-color="#8c8aff"/><stop offset="0.444" stop-color="#c681ff"/><stop offset="0.593" stop-color="#ff72fc"/><stop offset="0.704" stop-color="#ff54d7"/><stop offset="0.852" stop-color="#ff32b0"/><stop offset="1.000" stop-color="#ff1f91"/></linearGradient><linearGradient id="r150" gradientUnits="userSpaceOnUse" x1="111.8" x2="325.9"><stop offset="0.000" stop-color="#0d95ff"/><stop offset="0.094" stop-color="#1292ff"/><stop offset="0.151" stop-color="#1d8fff"/><stop offset="0.170" stop-color="#288eff"/><stop offset="0.226" stop-color="#578cff"/><stop offset="0.302" stop-color="#8488ff"/><stop offset="0.434" stop-color="#bf7fff"/><stop offset="0.604" stop-color="#ff6dfd"/><stop offset="0.717" stop-color="#ff4fd7"/><stop offset="0.849" stop-color="#ff31b5"/><stop offset="1.000" stop-color="#ff1f96"/></linearGradient><linearGradient id="r151" gradientUnits="userSpaceOnUse" x1="112.4" x2="321.6"><stop offset="0.000" stop-color="#0e93ff"/><stop offset="0.096" stop-color="#138fff"/><stop offset="0.154" stop-color="#1f8cff"/><stop offset="0.231" stop-color="#5a89ff"/><stop offset="0.308" stop-color="#8584ff"/><stop offset="0.442" stop-color="#bf7bff"/><stop offset="0.615" stop-color="#ff68fd"/><stop offset="0.846" stop-color="#ff30bb"/><stop offset="1.000" stop-color="#ff1e9a"/></linearGradient><linearGradient id="r152" gradientUnits="userSpaceOnUse" x1="113.1" x2="317.3"><stop offset="0.000" stop-color="#0e90ff"/><stop offset="0.098" stop-color="#148cff"/><stop offset="0.157" stop-color="#218aff"/><stop offset="0.235" stop-color="#5c86ff"/><stop offset="0.314" stop-color="#8681ff"/><stop offset="0.431" stop-color="#b879ff"/><stop offset="0.627" stop-color="#ff64fe"/><stop offset="0.843" stop-color="#ff2fc0"/><stop offset="1.000" stop-color="#ff1d9f"/></linearGradient><linearGradient id="r153" gradientUnits="userSpaceOnUse" x1="113.7" x2="313.0"><stop offset="0.000" stop-color="#0e8eff"/><stop offset="0.143" stop-color="#1c88ff"/><stop offset="0.163" stop-color="#2687ff"/><stop offset="0.245" stop-color="#6182ff"/><stop offset="0.306" stop-color="#817fff"/><stop offset="0.429" stop-color="#b476ff"/><stop offset="0.633" stop-color="#fd60ff"/><stop offset="0.837" stop-color="#ff2fc6"/><stop offset="1.000" stop-color="#ff1da4"/></linearGradient><linearGradient id="r154" gradientUnits="userSpaceOnUse" x1="114.4" x2="308.7"><stop offset="0.000" stop-color="#0e8bff"/><stop offset="0.104" stop-color="#1587ff"/><stop offset="0.146" stop-color="#1e85ff"/><stop offset="0.229" stop-color="#5780ff"/><stop offset="0.313" stop-color="#827bff"/><stop offset="0.437" stop-color="#b472ff"/><stop offset="0.646" stop-color="#fd5aff"/><stop offset="0.833" stop-color="#ff2ecc"/><stop offset="1.000" stop-color="#ff1ca9"/></linearGradient><linearGradient id="r155" gradientUnits="userSpaceOnUse" x1="115.1" x2="304.4"><stop offset="0.000" stop-color="#0f89ff"/><stop offset="0.106" stop-color="#1684ff"/><stop offset="0.149" stop-color="#2082ff"/><stop offset="0.234" stop-color="#597dff"/><stop offset="0.319" stop-color="#8478ff"/><stop offset="0.660" stop-color="#fc55ff"/><stop offset="0.851" stop-color="#ff29cd"/><stop offset="1.000" stop-color="#ff1cae"/></linearGradient><linearGradient id="r156" gradientUnits="userSpaceOnUse" x1="115.8" x2="300.1"><stop offset="0.000" stop-color="#0f86ff"/><stop offset="0.109" stop-color="#1781ff"/><stop offset="0.152" stop-color="#227fff"/><stop offset="0.239" stop-color="#5c7aff"/><stop offset="0.326" stop-color="#8575ff"/><stop offset="0.522" stop-color="#cb64ff"/><stop offset="0.674" stop-color="#fc4fff"/><stop offset="0.848" stop-color="#ff28d3"/><stop offset="1.000" stop-color="#ff1bb3"/></linearGradient><linearGradient id="r157" gradientUnits="userSpaceOnUse" x1="116.5" x2="295.8"><stop offset="0.000" stop-color="#0f83ff"/><stop offset="0.136" stop-color="#1d7dff"/><stop offset="0.250" stop-color="#6177ff"/><stop offset="0.341" stop-color="#8971ff"/><stop offset="0.545" stop-color="#cf5eff"/><stop offset="0.705" stop-color="#ff45fe"/><stop offset="0.841" stop-color="#ff28da"/><stop offset="1.000" stop-color="#ff1bb9"/></linearGradient><linearGradient id="r158" gradientUnits="userSpaceOnUse" x1="117.2" x2="291.5"><stop offset="0.000" stop-color="#0f81ff"/><stop offset="0.093" stop-color="#167cff"/><stop offset="0.140" stop-color="#1f7aff"/><stop offset="0.233" stop-color="#5775ff"/><stop offset="0.326" stop-color="#816fff"/><stop offset="0.558" stop-color="#cf59ff"/><stop offset="0.721" stop-color="#ff3fff"/><stop offset="0.837" stop-color="#ff26e0"/><stop offset="1.000" stop-color="#ff1abe"/></linearGradient><linearGradient id="r159" gradientUnits="userSpaceOnUse" x1="118.0" x2="287.2"><stop offset="0.000" stop-color="#107eff"/><stop offset="0.095" stop-color="#1679ff"/><stop offset="0.143" stop-color="#2177ff"/><stop offset="0.238" stop-color="#5971ff"/><stop offset="0.333" stop-color="#836bff"/><stop offset="0.571" stop-color="#cf54ff"/><stop offset="0.738" stop-color="#ff37ff"/><stop offset="0.857" stop-color="#ff22e1"/><stop offset="1.000" stop-color="#ff19c3"/></linearGradient><linearGradient id="r160" gradientUnits="userSpaceOnUse" x1="118.7" x2="282.9"><stop offset="0.000" stop-color="#107bff"/><stop offset="0.122" stop-color="#1c75ff"/><stop offset="0.146" stop-color="#2474ff"/><stop offset="0.244" stop-color="#5c6eff"/><stop offset="0.341" stop-color="#8467ff"/><stop offset="0.585" stop-color="#cf4eff"/><stop offset="0.756" stop-color="#fe31ff"/><stop offset="0.854" stop-color="#ff21e7"/><stop offset="1.000" stop-color="#ff19c9"/></linearGradient><linearGradient id="r161" gradientUnits="userSpaceOnUse" x1="119.4" x2="278.6"><stop offset="0.000" stop-color="#1078ff"/><stop offset="0.128" stop-color="#1e72ff"/><stop offset="0.256" stop-color="#616aff"/><stop offset="0.359" stop-color="#8863ff"/><stop offset="0.590" stop-color="#cc4aff"/><stop offset="0.769" stop-color="#fc2bff"/><stop offset="0.872" stop-color="#ff1ee9"/><stop offset="1.000" stop-color="#ff18ce"/></linearGradient><linearGradient id="r162" gradientUnits="userSpaceOnUse" x1="120.2" x2="274.3"><stop offset="0.000" stop-color="#1175ff"/><stop offset="0.132" stop-color="#206fff"/><stop offset="0.237" stop-color="#5768ff"/><stop offset="0.342" stop-color="#8161ff"/><stop offset="0.579" stop-color="#c548ff"/><stop offset="0.789" stop-color="#fc26ff"/><stop offset="1.000" stop-color="#ff18d4"/></linearGradient><linearGradient id="r163" gradientUnits="userSpaceOnUse" x1="120.9" x2="270.0"><stop offset="0.000" stop-color="#1173ff"/><stop offset="0.081" stop-color="#176eff"/><stop offset="0.135" stop-color="#226bff"/><stop offset="0.243" stop-color="#5965ff"/><stop offset="0.351" stop-color="#825dff"/><stop offset="0.568" stop-color="#bf46ff"/><stop offset="0.811" stop-color="#fb21ff"/><stop offset="1.000" stop-color="#ff17da"/></linearGradient><linearGradient id="r164" gradientUnits="userSpaceOnUse" x1="121.7" x2="265.7"><stop offset="0.000" stop-color="#116fff"/><stop offset="0.111" stop-color="#1d6aff"/><stop offset="0.139" stop-color="#2568ff"/><stop offset="0.250" stop-color="#5c61ff"/><stop offset="0.333" stop-color="#7a5bff"/><stop offset="0.667" stop-color="#d334ff"/><stop offset="0.861" stop-color="#ff1cfd"/><stop offset="1.000" stop-color="#ff17e0"/></linearGradient><linearGradient id="r165" gradientUnits="userSpaceOnUse" x1="122.5" x2="261.4"><stop offset="0.000" stop-color="#126cff"/><stop offset="0.118" stop-color="#1f66ff"/><stop offset="0.235" stop-color="#555fff"/><stop offset="0.324" stop-color="#7558ff"/><stop offset="0.588" stop-color="#bc3cff"/><stop offset="0.882" stop-color="#ff1aff"/><stop offset="1.000" stop-color="#ff16e7"/></linearGradient><linearGradient id="r166" gradientUnits="userSpaceOnUse" x1="123.3" x2="257.1"><stop offset="0.000" stop-color="#1269ff"/><stop offset="0.121" stop-color="#2263ff"/><stop offset="0.303" stop-color="#6d56ff"/><stop offset="0.545" stop-color="#af3eff"/><stop offset="0.758" stop-color="#de23ff"/><stop offset="0.909" stop-color="#fe18ff"/><stop offset="1.000" stop-color="#ff16ed"/></linearGradient><linearGradient id="r167" gradientUnits="userSpaceOnUse" x1="124.1" x2="252.8"><stop offset="0.000" stop-color="#1366ff"/><stop offset="0.125" stop-color="#245fff"/><stop offset="0.281" stop-color="#6554ff"/><stop offset="0.500" stop-color="#a140ff"/><stop offset="0.750" stop-color="#d722ff"/><stop offset="0.938" stop-color="#fe16ff"/><stop offset="1.000" stop-color="#ff15f4"/></linearGradient><linearGradient id="r168" gradientUnits="userSpaceOnUse" x1="124.9" x2="248.5"><stop offset="0.000" stop-color="#1462ff"/><stop offset="0.100" stop-color="#1f5dff"/><stop offset="0.267" stop-color="#5f52ff"/><stop offset="0.467" stop-color="#9640ff"/><stop offset="0.733" stop-color="#cf22ff"/><stop offset="1.000" stop-color="#ff15fb"/></linearGradient><linearGradient id="r169" gradientUnits="userSpaceOnUse" x1="125.8" x2="244.2"><stop offset="0.000" stop-color="#145fff"/><stop offset="0.103" stop-color="#2159ff"/><stop offset="0.276" stop-color="#624dff"/><stop offset="0.448" stop-color="#8f3eff"/><stop offset="0.724" stop-color="#c821ff"/><stop offset="1.000" stop-color="#fc14ff"/></linearGradient><linearGradient id="r170" gradientUnits="userSpaceOnUse" x1="126.6" x2="239.9"><stop offset="0.000" stop-color="#155bff"/><stop offset="0.107" stop-color="#2455ff"/><stop offset="0.250" stop-color="#594cff"/><stop offset="0.429" stop-color="#883cff"/><stop offset="0.714" stop-color="#c120ff"/><stop offset="1.000" stop-color="#f414ff"/></linearGradient><linearGradient id="r171" gradientUnits="userSpaceOnUse" x1="127.5" x2="235.6"><stop offset="0.000" stop-color="#1658ff"/><stop offset="0.111" stop-color="#2751ff"/><stop offset="0.259" stop-color="#5b47ff"/><stop offset="0.444" stop-color="#8937ff"/><stop offset="0.704" stop-color="#bb20ff"/><stop offset="1.000" stop-color="#ed14ff"/></linearGradient><linearGradient id="r172" gradientUnits="userSpaceOnUse" x1="128.4" x2="231.3"><stop offset="0.000" stop-color="#1754ff"/><stop offset="0.080" stop-color="#214fff"/><stop offset="0.280" stop-color="#6141ff"/><stop offset="0.440" stop-color="#8633ff"/><stop offset="0.680" stop-color="#b220ff"/><stop offset="1.000" stop-color="#e614ff"/></linearGradient><linearGradient id="r173" gradientUnits="userSpaceOnUse" x1="129.4" x2="227.0"><stop offset="0.000" stop-color="#184fff"/><stop offset="0.083" stop-color="#244bff"/><stop offset="0.250" stop-color="#583fff"/><stop offset="0.417" stop-color="#7f32ff"/><stop offset="0.667" stop-color="#ac1fff"/><stop offset="1.000" stop-color="#df14ff"/></linearGradient><linearGradient id="r174" gradientUnits="userSpaceOnUse" x1="130.4" x2="222.7"><stop offset="0.000" stop-color="#194bff"/><stop offset="0.087" stop-color="#2746ff"/><stop offset="0.261" stop-color="#5b3aff"/><stop offset="0.435" stop-color="#802dff"/><stop offset="0.696" stop-color="#ac1dff"/><stop offset="1.000" stop-color="#d814ff"/></linearGradient><linearGradient id="r175" gradientUnits="userSpaceOnUse" x1="131.4" x2="218.4"><stop offset="0.000" stop-color="#1b47ff"/><stop offset="0.048" stop-color="#2144ff"/><stop offset="0.238" stop-color="#5537ff"/><stop offset="0.429" stop-color="#7d2aff"/><stop offset="1.000" stop-color="#d214ff"/></linearGradient><linearGradient id="r176" gradientUnits="userSpaceOnUse" x1="132.5" x2="214.1"><stop offset="0.000" stop-color="#1d42ff"/><stop offset="0.400" stop-color="#7628ff"/><stop offset="1.000" stop-color="#cb14ff"/></linearGradient><linearGradient id="r177" gradientUnits="userSpaceOnUse" x1="133.5" x2="209.8"><stop offset="0.000" stop-color="#1f3dff"/><stop offset="0.263" stop-color="#5b2dff"/><stop offset="0.421" stop-color="#7724ff"/><stop offset="1.000" stop-color="#c414ff"/></linearGradient><linearGradient id="r178" gradientUnits="userSpaceOnUse" x1="134.7" x2="205.6"><stop offset="0.000" stop-color="#2238ff"/><stop offset="0.235" stop-color="#562bff"/><stop offset="0.412" stop-color="#7422ff"/><stop offset="1.000" stop-color="#bd14ff"/></linearGradient><linearGradient id="r179" gradientUnits="userSpaceOnUse" x1="135.9" x2="201.3"><stop offset="0.000" stop-color="#2632ff"/><stop offset="0.188" stop-color="#4d29ff"/><stop offset="0.375" stop-color="#6d21ff"/><stop offset="1.000" stop-color="#b715ff"/></linearGradient><linearGradient id="r180" gradientUnits="userSpaceOnUse" x1="137.2" x2="197.0"><stop offset="0.000" stop-color="#2a2dff"/><stop offset="0.357" stop-color="#6920ff"/><stop offset="1.000" stop-color="#b015ff"/></linearGradient><linearGradient id="r181" gradientUnits="userSpaceOnUse" x1="138.6" x2="192.7"><stop offset="0.000" stop-color="#3028ff"/><stop offset="0.385" stop-color="#6c1dff"/><stop offset="1.000" stop-color="#a915ff"/></linearGradient><linearGradient id="r182" gradientUnits="userSpaceOnUse" x1="140.1" x2="188.4"><stop offset="0.000" stop-color="#3624ff"/><stop offset="0.417" stop-color="#6e1bff"/><stop offset="1.000" stop-color="#a215ff"/></linearGradient><linearGradient id="r183" gradientUnits="userSpaceOnUse" x1="141.9" x2="184.1"><stop offset="0.000" stop-color="#3e21ff"/><stop offset="0.400" stop-color="#6b1aff"/><stop offset="1.000" stop-color="#9b15ff"/></linearGradient><linearGradient id="r184" gradientUnits="userSpaceOnUse" x1="143.7" x2="179.8"><stop offset="0.000" stop-color="#451eff"/><stop offset="0.444" stop-color="#6e19ff"/><stop offset="1.000" stop-color="#9415ff"/></linearGradient><linearGradient id="r185" gradientUnits="userSpaceOnUse" x1="145.8" x2="175.5"><stop offset="0.000" stop-color="#4c1bff"/><stop offset="0.429" stop-color="#6c18ff"/><stop offset="1.000" stop-color="#8d15ff"/></linearGradient><linearGradient id="r186" gradientUnits="userSpaceOnUse" x1="148.0" x2="171.2"><stop offset="0.000" stop-color="#5319ff"/><stop offset="1.000" stop-color="#8515ff"/></linearGradient><linearGradient id="r187" gradientUnits="userSpaceOnUse" x1="150.3" x2="166.9"><stop offset="0.000" stop-color="#5a18ff"/><stop offset="1.000" stop-color="#7e15ff"/></linearGradient><linearGradient id="r188" gradientUnits="userSpaceOnUse" x1="152.6" x2="162.6"><stop offset="0.000" stop-color="#6016ff"/><stop offset="1.000" stop-color="#7615ff"/></linearGradient><linearGradient id="r189" gradientUnits="userSpaceOnUse" x1="155.3" x2="158.3"><stop offset="0.000" stop-color="#6715ff"/><stop offset="1.000" stop-color="#6d15ff"/></linearGradient></defs><rect x="77" y="180" width="402" height="409.5" fill="#e1e1e1"/><g clip-path="url(#hs)"><rect x="106.8" y="209" width="16.9" height="2.50" fill="url(#r0)"/><rect x="102.4" y="211" width="27.6" height="2.50" fill="url(#r1)"/><rect x="99.6" y="213" width="35.5" height="2.50" fill="url(#r2)"/><rect x="97.4" y="215" width="41.8" height="2.50" fill="url(#r3)"/><rect x="95.6" y="217" width="47.4" height="2.50" fill="url(#r4)"/><rect x="94.2" y="219" width="52.4" height="2.50" fill="url(#r5)"/><rect x="92.9" y="221" width="57.2" height="2.50" fill="url(#r6)"/><rect x="91.7" y="223" width="61.8" height="2.50" fill="url(#r7)"/><rect x="90.7" y="225" width="66.0" height="2.50" fill="url(#r8)"/><rect x="89.8" y="227" width="70.0" height="2.50" fill="url(#r9)"/><rect x="88.8" y="229" width="74.0" height="2.50" fill="url(#r10)"/><rect x="88.0" y="231" width="77.7" height="2.50" fill="url(#r11)"/><rect x="87.3" y="233" width="81.3" height="2.50" fill="url(#r12)"/><rect x="86.6" y="235" width="84.8" height="2.50" fill="url(#r13)"/><rect x="85.9" y="237" width="88.3" height="2.50" fill="url(#r14)"/><rect x="85.3" y="239" width="91.5" height="2.50" fill="url(#r15)"/><rect x="84.8" y="241" width="94.6" height="2.50" fill="url(#r16)"/><rect x="84.3" y="243" width="97.7" height="2.50" fill="url(#r17)"/><rect x="83.8" y="245" width="100.8" height="2.50" fill="url(#r18)"/><rect x="83.3" y="247" width="103.7" height="2.50" fill="url(#r19)"/><rect x="83.0" y="249" width="106.6" height="2.50" fill="url(#r20)"/><rect x="82.6" y="251" width="109.3" height="2.50" fill="url(#r21)"/><rect x="82.2" y="253" width="112.1" height="2.50" fill="url(#r22)"/><rect x="81.8" y="255" width="114.8" height="2.50" fill="url(#r23)"/><rect x="81.6" y="257" width="117.4" height="2.50" fill="url(#r24)"/><rect x="81.3" y="259" width="120.0" height="2.50" fill="url(#r25)"/><rect x="81.1" y="261" width="122.5" height="2.50" fill="url(#r26)"/><rect x="80.8" y="263" width="125.0" height="2.50" fill="url(#r27)"/><rect x="80.6" y="265" width="127.5" height="2.50" fill="url(#r28)"/><rect x="80.3" y="267" width="130.0" height="2.50" fill="url(#r29)"/><rect x="80.2" y="269" width="132.3" height="2.50" fill="url(#r30)"/><rect x="80.0" y="271" width="134.7" height="2.50" fill="url(#r31)"/><rect x="79.9" y="273" width="137.0" height="2.50" fill="url(#r32)"/><rect x="79.7" y="275" width="139.3" height="2.50" fill="url(#r33)"/><rect x="79.5" y="277" width="141.7" height="2.50" fill="url(#r34)"/><rect x="79.4" y="279" width="143.9" height="2.50" fill="url(#r35)"/><rect x="79.3" y="281" width="146.1" height="2.50" fill="url(#r36)"/><rect x="79.2" y="283" width="148.3" height="2.50" fill="url(#r37)"/><rect x="79.2" y="285" width="150.5" height="2.50" fill="url(#r38)"/><rect x="79.1" y="287" width="152.7" height="2.50" fill="url(#r39)"/><rect x="79.0" y="289" width="154.9" height="2.50" fill="url(#r40)"/><rect x="79.0" y="291" width="157.0" height="2.50" fill="url(#r41)"/><rect x="78.9" y="293" width="159.1" height="2.50" fill="url(#r42)"/><rect x="78.9" y="295" width="161.2" height="2.50" fill="url(#r43)"/><rect x="78.9" y="297" width="163.3" height="2.50" fill="url(#r44)"/><rect x="78.9" y="299" width="165.4" height="2.50" fill="url(#r45)"/><rect x="78.9" y="301" width="167.5" height="2.50" fill="url(#r46)"/><rect x="78.9" y="303" width="169.5" height="2.50" fill="url(#r47)"/><rect x="78.9" y="305" width="171.6" height="2.50" fill="url(#r48)"/><rect x="79.0" y="307" width="173.5" height="2.50" fill="url(#r49)"/><rect x="79.0" y="309" width="175.5" height="2.50" fill="url(#r50)"/><rect x="79.1" y="311" width="177.5" height="2.50" fill="url(#r51)"/><rect x="79.1" y="313" width="179.5" height="2.50" fill="url(#r52)"/><rect x="79.2" y="315" width="181.5" height="2.50" fill="url(#r53)"/><rect x="79.2" y="317" width="183.4" height="2.50" fill="url(#r54)"/><rect x="79.3" y="319" width="185.4" height="2.50" fill="url(#r55)"/><rect x="79.4" y="321" width="187.3" height="2.50" fill="url(#r56)"/><rect x="79.5" y="323" width="189.2" height="2.50" fill="url(#r57)"/><rect x="79.6" y="325" width="191.1" height="2.50" fill="url(#r58)"/><rect x="79.7" y="327" width="193.1" height="2.50" fill="url(#r59)"/><rect x="79.9" y="329" width="195.0" height="2.50" fill="url(#r60)"/><rect x="80.0" y="331" width="196.9" height="2.50" fill="url(#r61)"/><rect x="80.1" y="333" width="198.8" height="2.50" fill="url(#r62)"/><rect x="80.3" y="335" width="200.6" height="2.50" fill="url(#r63)"/><rect x="80.4" y="337" width="202.5" height="2.50" fill="url(#r64)"/><rect x="80.5" y="339" width="204.4" height="2.50" fill="url(#r65)"/><rect x="80.7" y="341" width="206.2" height="2.50" fill="url(#r66)"/><rect x="80.8" y="343" width="208.1" height="2.50" fill="url(#r67)"/><rect x="81.0" y="345" width="210.0" height="2.50" fill="url(#r68)"/><rect x="81.2" y="347" width="211.8" height="2.50" fill="url(#r69)"/><rect x="81.4" y="349" width="213.6" height="2.50" fill="url(#r70)"/><rect x="81.5" y="351" width="215.4" height="2.50" fill="url(#r71)"/><rect x="81.7" y="353" width="217.2" height="2.50" fill="url(#r72)"/><rect x="81.9" y="355" width="219.0" height="2.50" fill="url(#r73)"/><rect x="82.1" y="357" width="220.9" height="2.50" fill="url(#r74)"/><rect x="82.3" y="359" width="222.7" height="2.50" fill="url(#r75)"/><rect x="82.5" y="361" width="224.4" height="2.50" fill="url(#r76)"/><rect x="82.8" y="363" width="226.2" height="2.50" fill="url(#r77)"/><rect x="83.0" y="365" width="228.0" height="2.50" fill="url(#r78)"/><rect x="83.2" y="367" width="229.7" height="2.50" fill="url(#r79)"/><rect x="83.5" y="369" width="231.5" height="2.50" fill="url(#r80)"/><rect x="83.7" y="371" width="233.3" height="2.50" fill="url(#r81)"/><rect x="83.9" y="373" width="235.1" height="2.50" fill="url(#r82)"/><rect x="84.2" y="375" width="236.8" height="2.50" fill="url(#r83)"/><rect x="84.4" y="377" width="238.5" height="2.50" fill="url(#r84)"/><rect x="84.7" y="379" width="240.3" height="2.50" fill="url(#r85)"/><rect x="85.0" y="381" width="242.0" height="2.50" fill="url(#r86)"/><rect x="85.2" y="383" width="243.8" height="2.50" fill="url(#r87)"/><rect x="85.5" y="385" width="245.5" height="2.50" fill="url(#r88)"/><rect x="85.8" y="387" width="247.3" height="2.50" fill="url(#r89)"/><rect x="86.0" y="389" width="249.0" height="2.50" fill="url(#r90)"/><rect x="86.3" y="391" width="250.7" height="2.50" fill="url(#r91)"/><rect x="86.6" y="393" width="252.4" height="2.50" fill="url(#r92)"/><rect x="86.9" y="395" width="254.1" height="2.50" fill="url(#r93)"/><rect x="87.2" y="397" width="255.8" height="2.50" fill="url(#r94)"/><rect x="87.5" y="399" width="257.5" height="2.50" fill="url(#r95)"/><rect x="87.8" y="401" width="259.2" height="2.50" fill="url(#r96)"/><rect x="88.1" y="403" width="260.9" height="2.50" fill="url(#r97)"/><rect x="88.4" y="405" width="262.6" height="2.50" fill="url(#r98)"/><rect x="88.8" y="407" width="264.3" height="2.50" fill="url(#r99)"/><rect x="89.1" y="409" width="265.9" height="2.50" fill="url(#r100)"/><rect x="89.4" y="411" width="267.6" height="2.50" fill="url(#r101)"/><rect x="89.7" y="413" width="269.3" height="2.50" fill="url(#r102)"/><rect x="90.1" y="415" width="271.0" height="2.50" fill="url(#r103)"/><rect x="90.4" y="417" width="272.6" height="2.50" fill="url(#r104)"/><rect x="90.8" y="419" width="274.3" height="2.50" fill="url(#r105)"/><rect x="91.1" y="421" width="275.9" height="2.50" fill="url(#r106)"/><rect x="91.5" y="423" width="277.5" height="2.50" fill="url(#r107)"/><rect x="91.9" y="425" width="279.2" height="2.50" fill="url(#r108)"/><rect x="92.2" y="427" width="280.8" height="2.50" fill="url(#r109)"/><rect x="92.6" y="429" width="282.5" height="2.50" fill="url(#r110)"/><rect x="93.0" y="431" width="284.1" height="2.50" fill="url(#r111)"/><rect x="93.4" y="433" width="285.8" height="2.50" fill="url(#r112)"/><rect x="93.7" y="435" width="287.4" height="2.50" fill="url(#r113)"/><rect x="94.1" y="437" width="289.0" height="2.50" fill="url(#r114)"/><rect x="94.5" y="439" width="290.6" height="2.50" fill="url(#r115)"/><rect x="94.9" y="441" width="292.2" height="2.50" fill="url(#r116)"/><rect x="95.3" y="443" width="293.8" height="2.50" fill="url(#r117)"/><rect x="95.7" y="445" width="295.4" height="2.50" fill="url(#r118)"/><rect x="96.1" y="447" width="297.0" height="2.50" fill="url(#r119)"/><rect x="96.6" y="449" width="298.6" height="2.50" fill="url(#r120)"/><rect x="97.0" y="451" width="300.2" height="2.50" fill="url(#r121)"/><rect x="97.4" y="453" width="301.8" height="2.50" fill="url(#r122)"/><rect x="97.8" y="455" width="303.3" height="2.50" fill="url(#r123)"/><rect x="98.2" y="457" width="304.9" height="2.50" fill="url(#r124)"/><rect x="98.7" y="459" width="306.4" height="2.50" fill="url(#r125)"/><rect x="99.1" y="461" width="308.0" height="2.50" fill="url(#r126)"/><rect x="99.6" y="463" width="309.6" height="2.50" fill="url(#r127)"/><rect x="100.0" y="465" width="311.1" height="2.50" fill="url(#r128)"/><rect x="100.5" y="467" width="311.7" height="2.50" fill="url(#r129)"/><rect x="100.9" y="469" width="310.9" height="2.50" fill="url(#r130)"/><rect x="101.4" y="471" width="306.1" height="2.50" fill="url(#r131)"/><rect x="101.9" y="473" width="301.4" height="2.50" fill="url(#r132)"/><rect x="102.4" y="475" width="296.6" height="2.50" fill="url(#r133)"/><rect x="102.9" y="477" width="291.8" height="2.50" fill="url(#r134)"/><rect x="103.4" y="479" width="287.0" height="2.50" fill="url(#r135)"/><rect x="103.9" y="481" width="282.2" height="2.50" fill="url(#r136)"/><rect x="104.4" y="483" width="277.4" height="2.50" fill="url(#r137)"/><rect x="104.9" y="485" width="272.6" height="2.50" fill="url(#r138)"/><rect x="105.4" y="487" width="267.8" height="2.50" fill="url(#r139)"/><rect x="105.9" y="489" width="262.9" height="2.50" fill="url(#r140)"/><rect x="106.5" y="491" width="258.1" height="2.50" fill="url(#r141)"/><rect x="107.0" y="493" width="253.2" height="2.50" fill="url(#r142)"/><rect x="107.6" y="495" width="248.4" height="2.50" fill="url(#r143)"/><rect x="108.1" y="497" width="243.6" height="2.50" fill="url(#r144)"/><rect x="108.7" y="499" width="238.7" height="2.50" fill="url(#r145)"/><rect x="109.3" y="501" width="233.8" height="2.50" fill="url(#r146)"/><rect x="109.9" y="503" width="228.9" height="2.50" fill="url(#r147)"/><rect x="110.5" y="505" width="224.0" height="2.50" fill="url(#r148)"/><rect x="111.1" y="507" width="219.1" height="2.50" fill="url(#r149)"/><rect x="111.8" y="509" width="214.1" height="2.50" fill="url(#r150)"/><rect x="112.4" y="511" width="209.2" height="2.50" fill="url(#r151)"/><rect x="113.1" y="513" width="204.2" height="2.50" fill="url(#r152)"/><rect x="113.7" y="515" width="199.3" height="2.50" fill="url(#r153)"/><rect x="114.4" y="517" width="194.3" height="2.50" fill="url(#r154)"/><rect x="115.1" y="519" width="189.3" height="2.50" fill="url(#r155)"/><rect x="115.8" y="521" width="184.3" height="2.50" fill="url(#r156)"/><rect x="116.5" y="523" width="179.3" height="2.50" fill="url(#r157)"/><rect x="117.2" y="525" width="174.3" height="2.50" fill="url(#r158)"/><rect x="118.0" y="527" width="169.2" height="2.50" fill="url(#r159)"/><rect x="118.7" y="529" width="164.2" height="2.50" fill="url(#r160)"/><rect x="119.4" y="531" width="159.2" height="2.50" fill="url(#r161)"/><rect x="120.2" y="533" width="154.2" height="2.50" fill="url(#r162)"/><rect x="120.9" y="535" width="149.1" height="2.50" fill="url(#r163)"/><rect x="121.7" y="537" width="144.0" height="2.50" fill="url(#r164)"/><rect x="122.5" y="539" width="139.0" height="2.50" fill="url(#r165)"/><rect x="123.3" y="541" width="133.9" height="2.50" fill="url(#r166)"/><rect x="124.1" y="543" width="128.7" height="2.50" fill="url(#r167)"/><rect x="124.9" y="545" width="123.6" height="2.50" fill="url(#r168)"/><rect x="125.8" y="547" width="118.5" height="2.50" fill="url(#r169)"/><rect x="126.6" y="549" width="113.3" height="2.50" fill="url(#r170)"/><rect x="127.5" y="551" width="108.1" height="2.50" fill="url(#r171)"/><rect x="128.4" y="553" width="102.9" height="2.50" fill="url(#r172)"/><rect x="129.4" y="555" width="97.7" height="2.50" fill="url(#r173)"/><rect x="130.4" y="557" width="92.4" height="2.50" fill="url(#r174)"/><rect x="131.4" y="559" width="87.1" height="2.50" fill="url(#r175)"/><rect x="132.5" y="561" width="81.7" height="2.50" fill="url(#r176)"/><rect x="133.5" y="563" width="76.3" height="2.50" fill="url(#r177)"/><rect x="134.7" y="565" width="70.9" height="2.50" fill="url(#r178)"/><rect x="135.9" y="567" width="65.3" height="2.50" fill="url(#r179)"/><rect x="137.2" y="569" width="59.7" height="2.50" fill="url(#r180)"/><rect x="138.6" y="571" width="54.0" height="2.50" fill="url(#r181)"/><rect x="140.1" y="573" width="48.2" height="2.50" fill="url(#r182)"/><rect x="141.9" y="575" width="42.2" height="2.50" fill="url(#r183)"/><rect x="143.7" y="577" width="36.0" height="2.50" fill="url(#r184)"/><rect x="145.8" y="579" width="29.7" height="2.50" fill="url(#r185)"/><rect x="148.0" y="581" width="23.1" height="2.50" fill="url(#r186)"/><rect x="150.3" y="583" width="16.5" height="2.50" fill="url(#r187)"/><rect x="152.6" y="585" width="10.0" height="2.50" fill="url(#r188)"/><rect x="155.3" y="587" width="3.0" height="2.50" fill="url(#r189)"/></g><g stroke="#000" stroke-opacity="0.15" stroke-width="1.2"><line x1="122.5" y1="180" x2="122.5" y2="589.5"/><line x1="169.0" y1="180" x2="169.0" y2="589.5"/><line x1="214.4" y1="180" x2="214.4" y2="589.5"/><line x1="259.7" y1="180" x2="259.7" y2="589.5"/><line x1="305.1" y1="180" x2="305.1" y2="589.5"/><line x1="350.3" y1="180" x2="350.3" y2="589.5"/><line x1="395.7" y1="180" x2="395.7" y2="589.5"/><line x1="441.5" y1="180" x2="441.5" y2="589.5"/><line x1="77" y1="543.8" x2="479" y2="543.8"/><line x1="77" y1="498.3" x2="479" y2="498.3"/><line x1="77" y1="452.8" x2="479" y2="452.8"/><line x1="77" y1="407.3" x2="479" y2="407.3"/><line x1="77" y1="361.8" x2="479" y2="361.8"/><line x1="77" y1="316.3" x2="479" y2="316.3"/><line x1="77" y1="270.8" x2="479" y2="270.8"/><line x1="77" y1="225.3" x2="479" y2="225.3"/></g><rect x="77" y="180" width="402" height="1.6" fill="#a8a8a8"/><rect x="77" y="180" width="1.8" height="409.5" fill="#6e6e6e"/><rect x="77" y="588" width="402" height="1.6" fill="#6a6a6a"/><g font-family="Liberation Sans, sans-serif" font-size="12.3" letter-spacing="0.3" fill="#222"><text x="81.3" y="501.9">0.2</text><text x="169.5" y="584.3" text-anchor="middle">0.2</text><text x="81.3" y="410.9">0.4</text><text x="259.5" y="584.3" text-anchor="middle">0.4</text><text x="81.3" y="319.9">0.6</text><text x="350.3" y="584.3" text-anchor="middle">0.6</text><text x="81.3" y="228.9">0.8</text><text x="441.1" y="584.3" text-anchor="middle">0.8</text><text x="81.5" y="584.3">0</text><text x="82" y="191.8">y</text><text x="475.8" y="584.3">x</text></g><polygon points="217,317 361.9,436.1 150.9,550.6" fill="none" stroke="#f2a21e" stroke-width="1.35"/><path d="M145,213.4 L342.8,407.6 L137,567.5" fill="none" stroke="#000" stroke-width="1.25" stroke-linejoin="miter"/><path d="M145,213 V248.9 h-1.6 V320.5 h-1.6 V389.8 h-1.6 V461.4 h-1.6 V530.6 h-1.6 V568" fill="none" stroke="#000" stroke-width="1.5"/><text x="345.5" y="276.6" font-family="Liberation Sans, sans-serif" font-weight="bold" font-size="21" fill="#000">Monitor</text><text x="345.5" y="302.8" font-family="Liberation Sans, sans-serif" font-weight="bold" font-size="21" fill="#f0a020">sRGB</text></svg>
<svg class="abs" style="left:516px;top:179px" width="412" height="411" viewBox="516 179 412 411"><defs><linearGradient id="bg" x1="0" y1="0" x2="0" y2="1"><stop offset="0" stop-color="#e14a14"/><stop offset="0.10" stop-color="#e86016"/><stop offset="0.20" stop-color="#ee9219"/><stop offset="0.30" stop-color="#f0c01c"/><stop offset="0.40" stop-color="#ece81a"/><stop offset="0.50" stop-color="#d4e618"/><stop offset="0.60" stop-color="#a8cc14"/><stop offset="0.70" stop-color="#7cb212"/><stop offset="0.80" stop-color="#5aa010"/><stop offset="0.90" stop-color="#429410"/><stop offset="1" stop-color="#368c10"/></linearGradient></defs><rect x="517" y="180.5" width="409.5" height="408" fill="url(#bg)" stroke="#000" stroke-width="1.6"/><line x1="517" x2="926" y1="505.5" y2="505.5" stroke="#000" stroke-opacity="0.12" stroke-width="1.2"/><line x1="517" x2="926" y1="423.4" y2="423.4" stroke="#000" stroke-opacity="0.12" stroke-width="1.2"/><line x1="517" x2="926" y1="343.4" y2="343.4" stroke="#000" stroke-opacity="0.12" stroke-width="1.2"/><line x1="517" x2="926" y1="261.8" y2="261.8" stroke="#000" stroke-opacity="0.12" stroke-width="1.2"/><g font-family="Liberation Sans, sans-serif" font-size="11.8" letter-spacing="0.45" fill="#000" fill-opacity="0.8"><text x="520" y="192">10 d E 94</text><text x="519" y="266.1">8 d E 94</text><text x="519" y="347.7">6 d E 94</text><text x="519" y="427.7">4 d E 94</text><text x="519" y="509.8">2 d E 94</text></g><rect x="588.8" y="431.4" width="14.8" height="157.2" fill="#333333" stroke="#000" stroke-width="1.5"/><rect x="608.1" y="500.3" width="14.8" height="88.3" fill="#444444" stroke="#000" stroke-width="1.5"/><rect x="627.4" y="558.6" width="14.8" height="30.0" fill="#888888" stroke="#000" stroke-width="1.5"/><rect x="646.7" y="566.5" width="14.8" height="22.1" fill="#c8c8c8" stroke="#000" stroke-width="1.5"/><rect x="685.2" y="308.2" width="14.8" height="280.4" fill="#ff0000" stroke="#000" stroke-width="1.5"/><rect x="704.6" y="176.0" width="14.8" height="412.6" fill="#00ff08" stroke="#000" stroke-width="1.5"/><rect x="723.6" y="443.2" width="14.8" height="145.4" fill="#0000ff" stroke="#000" stroke-width="1.5"/><rect x="742.9" y="558.8" width="14.8" height="29.8" fill="#00ffff" stroke="#000" stroke-width="1.5"/><rect x="762.2" y="488.0" width="14.8" height="100.6" fill="#ff00ff" stroke="#000" stroke-width="1.5"/><rect x="781.5" y="287.5" width="14.8" height="301.1" fill="#ffff00" stroke="#000" stroke-width="1.5"/><rect x="800.6" y="488.0" width="14.8" height="100.6" fill="#b05858" stroke="#000" stroke-width="1.5"/><rect x="819.9" y="406.4" width="14.8" height="182.2" fill="#58a858" stroke="#000" stroke-width="1.5"/><rect x="839.1" y="460.8" width="14.8" height="127.8" fill="#5858a8" stroke="#000" stroke-width="1.5"/><rect x="858.3" y="526.4" width="14.8" height="62.2" fill="#58a8a8" stroke="#000" stroke-width="1.5"/><rect x="877.5" y="476.7" width="14.8" height="111.9" fill="#a858a8" stroke="#000" stroke-width="1.5"/><rect x="896.8" y="443.2" width="14.8" height="145.4" fill="#a8a858" stroke="#000" stroke-width="1.5"/><rect x="517" y="180.5" width="409.5" height="408" fill="none" stroke="#000" stroke-width="1.6"/></svg>

<div class="abs t" style="left:177.8px;top:606px">Target</div>
<div class="abs t" style="left:279.8px;top:606px">Current</div>
<div class="abs t" style="left:382.3px;top:606px">Deviation</div>
<div class="abs t" style="left:74.8px;top:630px;letter-spacing:0.4px">Gamma</div>
<div class="abs t" style="left:176.6px;top:630px">2.2</div>
<div class="abs t g" style="left:278.6px;top:630px">2.3</div>
<div class="abs t g" style="left:381.8px;top:630px">3%</div>
<div class="abs t" style="left:74.8px;top:654px">Kelvin</div>
<div class="abs t" style="left:177.3px;top:654px;letter-spacing:0.3px">6500</div>
<div class="abs t o" style="left:279.8px;top:654px;letter-spacing:0.3px">8959</div>
<div class="abs t o" style="left:382.3px;top:654px">38%</div>
<div class="abs t" style="left:74.8px;top:678px">cd/m2</div>
<div class="abs t" style="left:177.3px;top:678px">120</div>
<div class="abs t o" style="left:279.8px;top:678px">157</div>
<div class="abs t o" style="left:382.3px;top:678px">31%</div>

<div class="abs t" style="left:516px;top:606px">Delta E Average</div>
<div class="abs t o" style="left:696.5px;top:606px">3.2</div>
<div class="abs t" style="left:516px;top:630px;letter-spacing:0.27px">Delta E Maximum</div>
<div class="abs t o" style="left:693px;top:630px">10.4</div>

<div class="abs btn" style="left:31px;letter-spacing:-0.03px">Main Menu</div>
<div class="abs btn" style="left:167.5px;letter-spacing:0.17px">Calibration</div>
<div class="abs btn" style="left:717.1px;letter-spacing:0.35px;text-indent:-3px">Save</div>
<div class="abs btn" style="left:853.5px;letter-spacing:0.9px;text-indent:-2.5px">Quit</div>
</body>
</html>
